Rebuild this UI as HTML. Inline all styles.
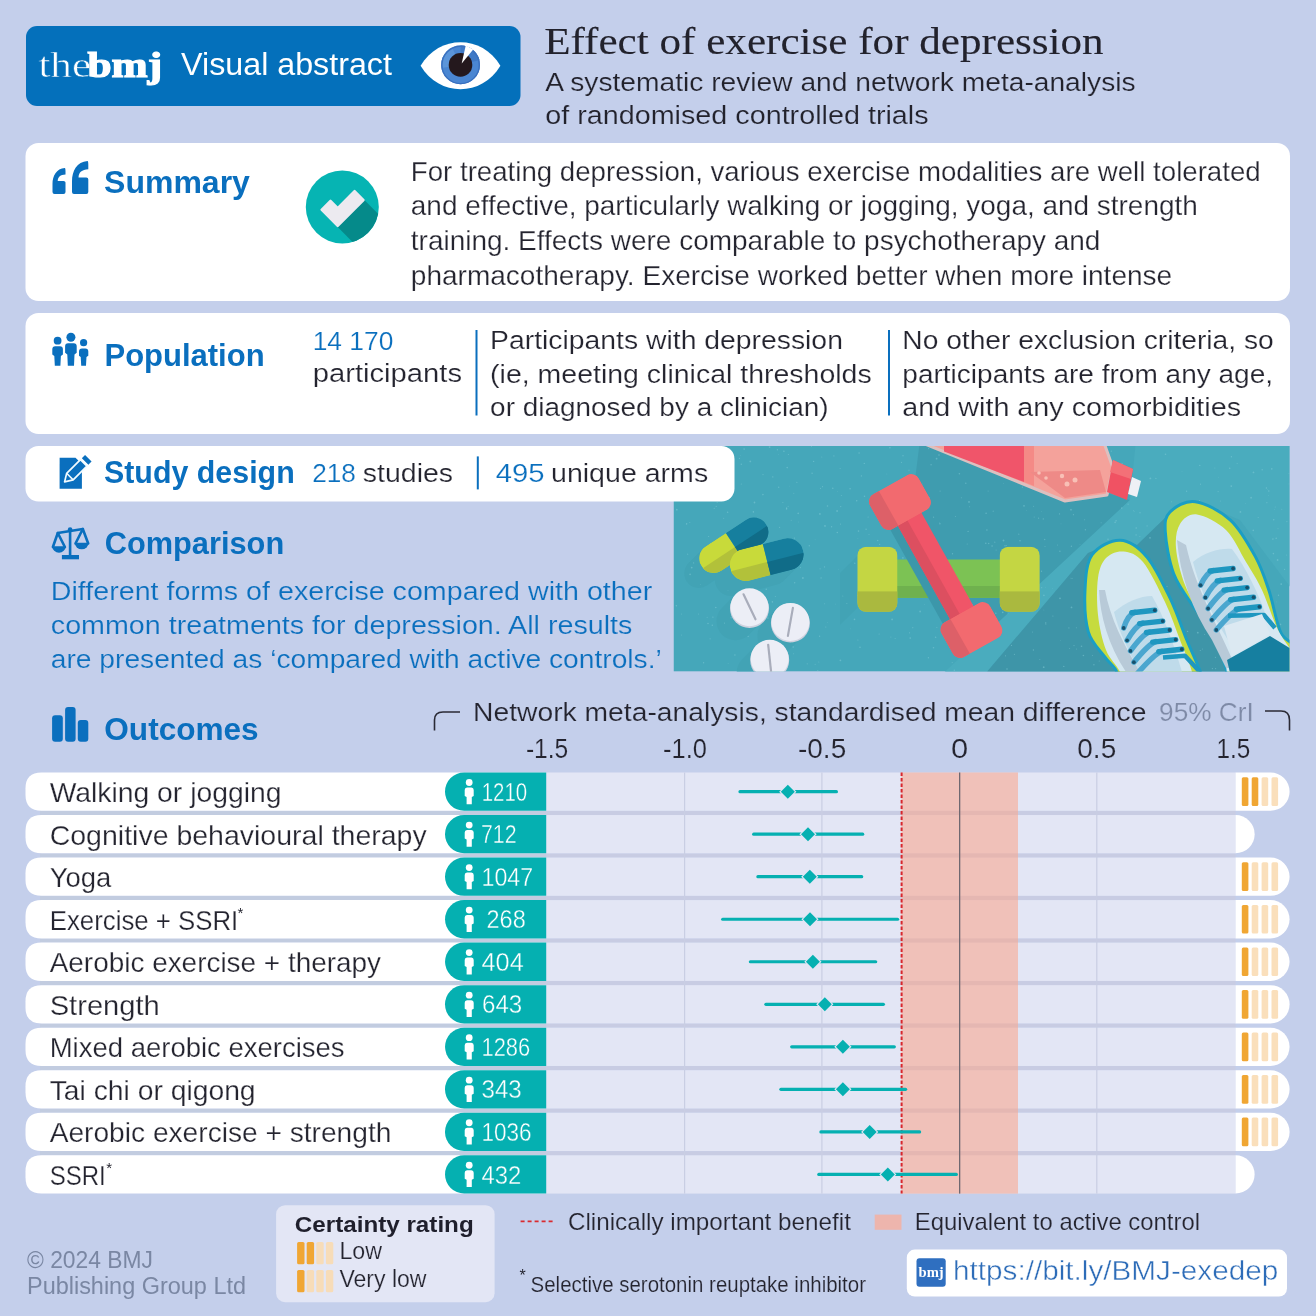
<!DOCTYPE html>
<html><head><meta charset="utf-8"><title>Effect of exercise for depression - Visual abstract</title>
<style>html,body{margin:0;padding:0;background:#c4cfeb;}svg{display:block;font-family:'Liberation Sans', sans-serif;}</style>
</head><body>
<svg width="1316" height="1316" viewBox="0 0 1316 1316">
<rect width="1316" height="1316" fill="#c4cfeb"/>
<rect x="26" y="26" width="494.5" height="80" rx="11" fill="#0470bb"/>
<text x="38.4" y="77.2" font-size="35" style="font-family:'Liberation Serif', serif" fill="#fff" textLength="52.7" lengthAdjust="spacingAndGlyphs" stroke="#0470bb" stroke-width="0.5">the</text>
<text x="87.4" y="77.2" font-size="35" font-weight="bold" style="font-family:'Liberation Serif', serif" fill="#fff" textLength="74.7" lengthAdjust="spacingAndGlyphs" stroke="#fff" stroke-width="1.2">bmj</text>
<text x="181.1" y="75.2" font-size="31" fill="#fff" textLength="210.8" lengthAdjust="spacingAndGlyphs">Visual abstract</text>
<path d="M420.6,65.7 C439,34.4 482,34.4 500.4,65.7 C482,97 439,97 420.6,65.7 Z" fill="#fff"/>
<circle cx="460.6" cy="64.9" r="19.4" fill="#4a86d2"/>
<path d="M460.6,64.9 L460.6,45.5 A19.4,19.4 0 0 1 479.5,60 Z" fill="#3f79c6"/>
<path d="M460.6,64.9 L441.5,68 A19.4,19.4 0 0 1 452,47.5 Z" fill="#5b95da"/>
<circle cx="460.6" cy="64.9" r="18.7" fill="none" stroke="#3a70bf" stroke-width="1.4"/>
<circle cx="460.5" cy="64.9" r="11.8" fill="#24181d"/>
<path d="M461.7,63.4 L465.8,45.3 L473.2,49.6 Z" fill="#fff"/>
<text x="544.2" y="53.7" font-size="38" style="font-family:'Liberation Serif', serif" fill="#22222c" textLength="559.5" lengthAdjust="spacingAndGlyphs" stroke="#22222c" stroke-width="0.12">Effect of exercise for depression</text>
<text x="545.2" y="90.7" font-size="26" fill="#22222c" textLength="590.4" lengthAdjust="spacingAndGlyphs" stroke="#c4cfeb" stroke-width="0.2">A systematic review and network meta-analysis</text>
<text x="545.2" y="124.4" font-size="26" fill="#22222c" textLength="383.4" lengthAdjust="spacingAndGlyphs" stroke="#c4cfeb" stroke-width="0.2">of randomised controlled trials</text>
<rect x="25.5" y="143" width="1264.5" height="158" rx="13" fill="#fff"/>
<path d="M64.85,168 C56.4,168.52 52.5,175.8 52.5,184.12 L52.5,192 Q52.5,194 54.5,194 L63.5,194 Q65.5,194 65.5,192 L65.5,182.56 Q65.5,181.0 63.5,181.0 L57.7,181.0 C57.96,176.58 60.3,175.02 65.5,174.5 Q65.5,173.2 65.5,171.12 Q65.5,168 64.85,168 Z" fill="#0a6fbe"/>
<path d="M87.485,161 C76.89,161.66 72,170.9 72,181.46 L72,192 Q72,194 74,194 L86.3,194 Q88.3,194 88.3,192 L88.3,179.48 Q88.3,177.5 86.3,177.5 L78.52,177.5 C78.846,171.89 81.78,169.91 88.3,169.25 Q88.3,167.6 88.3,164.96 Q88.3,161 87.485,161 Z" fill="#0a6fbe"/>
<text x="104.1" y="192.8" font-size="31" font-weight="bold" fill="#0a6fbe" textLength="145.8" lengthAdjust="spacingAndGlyphs">Summary</text>
<clipPath id="cc"><circle cx="342.3" cy="207" r="36.5"/></clipPath>
<circle cx="342.3" cy="207" r="36.5" fill="#06b4b3"/>
<path clip-path="url(#cc)" d="M337.7,226.9 L364.4,200.1 L414,250 L387,277 Z" fill="#058a8a"/>
<path d="M330.04,200.26 L337.7,207.9 L355.66,189.96 L365.14,199.44 L337.7,226.9 L320.56,209.74 Z" fill="#eceaf0" stroke="#eceaf0" stroke-width="2.6" stroke-linejoin="round" transform="translate(337.7,210) scale(0.94) translate(-337.7,-210)"/>
<text x="410.8" y="180.5" font-size="28" fill="#24242f" textLength="849.9" lengthAdjust="spacingAndGlyphs" stroke="#fff" stroke-width="0.25">For treating depression, various exercise modalities are well tolerated</text>
<text x="410.8" y="215.2" font-size="28" fill="#24242f" textLength="787.0" lengthAdjust="spacingAndGlyphs" stroke="#fff" stroke-width="0.25">and effective, particularly walking or jogging, yoga, and strength</text>
<text x="410.8" y="249.9" font-size="28" fill="#24242f" textLength="689.6" lengthAdjust="spacingAndGlyphs" stroke="#fff" stroke-width="0.25">training. Effects were comparable to psychotherapy and</text>
<text x="410.8" y="284.5" font-size="28" fill="#24242f" textLength="761.4" lengthAdjust="spacingAndGlyphs" stroke="#fff" stroke-width="0.25">pharmacotherapy. Exercise worked better when more intense</text>
<rect x="25.5" y="313" width="1264.5" height="121" rx="13" fill="#fff"/>
<circle cx="57.6" cy="340.7" r="3.9" fill="#0a6fbe"/>
<path d="M52.3,349.2 Q52.3,346.2 55.3,346.2 L59.9,346.2 Q62.9,346.2 62.9,349.2 L62.9,354.432 L60.886,356.0 L60.386,365.8 L54.814,365.8 L54.314,356.0 L52.3,354.432 Z" fill="#0a6fbe"/>
<circle cx="70.9" cy="337.2" r="4.5" fill="#0a6fbe"/>
<path d="M65.1,346.2 Q65.1,343.2 68.1,343.2 L73.7,343.2 Q76.7,343.2 76.7,346.2 L76.7,352.692 L74.49600000000001,354.5 L73.99600000000001,365.8 L67.804,365.8 L67.304,354.5 L65.1,352.692 Z" fill="#0a6fbe"/>
<circle cx="83.6" cy="342.7" r="3.6" fill="#0a6fbe"/>
<path d="M79.0,351.4 Q79.0,348.4 82.0,348.4 L85.3,348.4 Q88.3,348.4 88.3,351.4 L88.3,355.70799999999997 L86.48299999999999,357.1 L85.98299999999999,365.8 L81.217,365.8 L80.717,357.1 L79.0,355.70799999999997 Z" fill="#0a6fbe"/>
<text x="104.5" y="366.2" font-size="31" font-weight="bold" fill="#0a6fbe" textLength="160.1" lengthAdjust="spacingAndGlyphs">Population</text>
<text x="312.7" y="349.5" font-size="26" fill="#0a6fbe" textLength="80.6" lengthAdjust="spacingAndGlyphs" stroke="#fff" stroke-width="0.2">14 170</text>
<text x="312.7" y="382.1" font-size="26" fill="#24242f" textLength="149.4" lengthAdjust="spacingAndGlyphs" stroke="#fff" stroke-width="0.2">participants</text>
<rect x="475.5" y="330" width="2" height="85.5" fill="#0a6fbe"/>
<rect x="888" y="330" width="2" height="85.5" fill="#0a6fbe"/>
<text x="490.1" y="349.4" font-size="26" fill="#24242f" textLength="352.8" lengthAdjust="spacingAndGlyphs" stroke="#fff" stroke-width="0.2">Participants with depression</text>
<text x="490.1" y="382.9" font-size="26" fill="#24242f" textLength="381.6" lengthAdjust="spacingAndGlyphs" stroke="#fff" stroke-width="0.2">(ie, meeting clinical thresholds</text>
<text x="490.1" y="415.8" font-size="26" fill="#24242f" textLength="338.5" lengthAdjust="spacingAndGlyphs" stroke="#fff" stroke-width="0.2">or diagnosed by a clinician)</text>
<text x="902.3" y="349.4" font-size="26" fill="#24242f" textLength="371.4" lengthAdjust="spacingAndGlyphs" stroke="#fff" stroke-width="0.2">No other exclusion criteria, so</text>
<text x="902.3" y="382.9" font-size="26" fill="#24242f" textLength="370.8" lengthAdjust="spacingAndGlyphs" stroke="#fff" stroke-width="0.2">participants are from any age,</text>
<text x="902.3" y="415.8" font-size="26" fill="#24242f" textLength="338.8" lengthAdjust="spacingAndGlyphs" stroke="#fff" stroke-width="0.2">and with any comorbidities</text>
<clipPath id="ic"><rect x="673.5" y="446" width="616.0" height="225.60000000000002"/></clipPath>
<g clip-path="url(#ic)">
<rect x="673.5" y="446" width="616.0" height="225.60000000000002" fill="#45a7ba"/>
<path d="M935,440 L1130,500 L985,640 L965,645 L948,600 L910,520 L920,440 Z" fill="#3f9caf"/>
<path d="M1130,500 L1136,440 L1300,440 L1300,600 L1240,520 L1195,501 L1165,518 L1137,545 L1121,540 L1088,553 L980,680 L936,680 Z" fill="#4aacbe"/>
<path d="M1165,518 L1230,680 L980,680 L1088,553 L1121,540 L1137,545 Z" fill="#3e95a8"/>
<line x1="713.8" y1="558.4" x2="753.8" y2="532.0" stroke="#42a3b5" stroke-width="29" stroke-linecap="round"/>
<line x1="710.8" y1="561.4" x2="750.8" y2="535.0" stroke="#42a3b5" stroke-width="29" stroke-linecap="round"/>
<line x1="707.8" y1="564.4" x2="747.8" y2="538.0" stroke="#42a3b5" stroke-width="29" stroke-linecap="round"/>
<line x1="704.8" y1="567.4" x2="744.8" y2="541.0" stroke="#42a3b5" stroke-width="29" stroke-linecap="round"/>
<line x1="701.8" y1="570.4" x2="741.8" y2="544.0" stroke="#42a3b5" stroke-width="29" stroke-linecap="round"/>
<line x1="698.8" y1="573.4" x2="738.8" y2="547.0" stroke="#42a3b5" stroke-width="29" stroke-linecap="round"/>
<line x1="745.9" y1="564.9" x2="787.5" y2="554.3" stroke="#42a3b5" stroke-width="32" stroke-linecap="round"/>
<line x1="742.9" y1="567.9" x2="784.5" y2="557.3" stroke="#42a3b5" stroke-width="32" stroke-linecap="round"/>
<line x1="739.9" y1="570.9" x2="781.5" y2="560.3" stroke="#42a3b5" stroke-width="32" stroke-linecap="round"/>
<line x1="736.9" y1="573.9" x2="778.5" y2="563.3" stroke="#42a3b5" stroke-width="32" stroke-linecap="round"/>
<line x1="733.9" y1="576.9" x2="775.5" y2="566.3" stroke="#42a3b5" stroke-width="32" stroke-linecap="round"/>
<line x1="730.9" y1="579.9" x2="772.5" y2="569.3" stroke="#42a3b5" stroke-width="32" stroke-linecap="round"/>
<line x1="749.5" y1="607.3" x2="735.5" y2="621.3" stroke="#42a3b5" stroke-width="38" stroke-linecap="round"/>
<line x1="790.4" y1="621.9" x2="776.4" y2="635.9" stroke="#42a3b5" stroke-width="38" stroke-linecap="round"/>
<line x1="769.7" y1="658.8" x2="755.7" y2="672.8" stroke="#42a3b5" stroke-width="38" stroke-linecap="round"/>
<path d="M857.3,556 L857.3,608 L840,625 L840,573 Z" fill="#42a3b5"/>
<path d="M999.6,560 L1039.7,560 L1039.7,605 L1017,627 L977,627 Z" fill="#3995a9" fill-opacity="0"/>
<circle cx="820.1" cy="568.8" r="0.6" fill="#8ad0db" fill-opacity="0.45"/>
<circle cx="1045.5" cy="587.2" r="0.4" fill="#8ad0db" fill-opacity="0.45"/>
<circle cx="681.6" cy="634.9" r="0.5" fill="#8ad0db" fill-opacity="0.45"/>
<circle cx="817.8" cy="670.6" r="0.6" fill="#8ad0db" fill-opacity="0.45"/>
<circle cx="1188.8" cy="553.5" r="0.7" fill="#8ad0db" fill-opacity="0.45"/>
<circle cx="766.3" cy="589.2" r="0.8" fill="#8ad0db" fill-opacity="0.45"/>
<circle cx="995.8" cy="613.2" r="0.7" fill="#8ad0db" fill-opacity="0.45"/>
<circle cx="712.9" cy="617.1" r="0.7" fill="#8ad0db" fill-opacity="0.45"/>
<circle cx="859.1" cy="453.0" r="0.8" fill="#8ad0db" fill-opacity="0.45"/>
<circle cx="964.7" cy="608.2" r="0.8" fill="#8ad0db" fill-opacity="0.45"/>
<circle cx="1113.4" cy="653.8" r="0.6" fill="#8ad0db" fill-opacity="0.45"/>
<circle cx="1166.9" cy="546.3" r="0.9" fill="#8ad0db" fill-opacity="0.45"/>
<circle cx="1214.9" cy="468.0" r="0.5" fill="#8ad0db" fill-opacity="0.45"/>
<circle cx="807.2" cy="663.8" r="0.6" fill="#8ad0db" fill-opacity="0.45"/>
<circle cx="1059.5" cy="513.9" r="0.7" fill="#8ad0db" fill-opacity="0.45"/>
<circle cx="911.2" cy="525.2" r="0.7" fill="#8ad0db" fill-opacity="0.45"/>
<circle cx="1033.4" cy="650.0" r="0.7" fill="#8ad0db" fill-opacity="0.45"/>
<circle cx="1245.7" cy="639.2" r="0.9" fill="#8ad0db" fill-opacity="0.45"/>
<circle cx="1087.0" cy="482.8" r="0.8" fill="#8ad0db" fill-opacity="0.45"/>
<circle cx="1267.7" cy="650.1" r="0.7" fill="#8ad0db" fill-opacity="0.45"/>
<circle cx="1113.2" cy="493.6" r="0.8" fill="#8ad0db" fill-opacity="0.45"/>
<circle cx="1026.8" cy="510.3" r="0.4" fill="#8ad0db" fill-opacity="0.45"/>
<circle cx="1199.5" cy="669.3" r="0.4" fill="#8ad0db" fill-opacity="0.45"/>
<circle cx="1166.7" cy="538.6" r="0.5" fill="#8ad0db" fill-opacity="0.45"/>
<circle cx="854.5" cy="619.4" r="0.8" fill="#8ad0db" fill-opacity="0.45"/>
<circle cx="700.7" cy="584.6" r="0.4" fill="#8ad0db" fill-opacity="0.45"/>
<circle cx="1116.1" cy="520.7" r="0.8" fill="#8ad0db" fill-opacity="0.45"/>
<circle cx="1277.6" cy="560.0" r="0.9" fill="#8ad0db" fill-opacity="0.45"/>
<circle cx="864.3" cy="463.4" r="0.7" fill="#8ad0db" fill-opacity="0.45"/>
<circle cx="692.8" cy="490.5" r="0.6" fill="#8ad0db" fill-opacity="0.45"/>
<circle cx="1049.5" cy="481.2" r="0.4" fill="#8ad0db" fill-opacity="0.45"/>
<circle cx="1208.1" cy="516.8" r="0.9" fill="#8ad0db" fill-opacity="0.45"/>
<circle cx="1225.8" cy="531.2" r="0.6" fill="#8ad0db" fill-opacity="0.45"/>
<circle cx="993.9" cy="591.3" r="0.7" fill="#8ad0db" fill-opacity="0.45"/>
<circle cx="1018.0" cy="585.9" r="0.9" fill="#8ad0db" fill-opacity="0.45"/>
<circle cx="985.8" cy="543.3" r="0.8" fill="#8ad0db" fill-opacity="0.45"/>
<circle cx="819.9" cy="513.9" r="0.9" fill="#8ad0db" fill-opacity="0.45"/>
<circle cx="994.5" cy="569.7" r="0.4" fill="#8ad0db" fill-opacity="0.45"/>
<circle cx="929.3" cy="576.8" r="0.4" fill="#8ad0db" fill-opacity="0.45"/>
<circle cx="1052.8" cy="588.6" r="0.4" fill="#8ad0db" fill-opacity="0.45"/>
<circle cx="1059.9" cy="551.2" r="0.7" fill="#8ad0db" fill-opacity="0.45"/>
<circle cx="890.7" cy="605.5" r="0.8" fill="#8ad0db" fill-opacity="0.45"/>
<circle cx="687.2" cy="459.7" r="0.7" fill="#8ad0db" fill-opacity="0.45"/>
<circle cx="1266.9" cy="502.7" r="0.6" fill="#8ad0db" fill-opacity="0.45"/>
<circle cx="1038.6" cy="518.2" r="0.6" fill="#8ad0db" fill-opacity="0.45"/>
<circle cx="866.1" cy="529.3" r="0.7" fill="#8ad0db" fill-opacity="0.45"/>
<circle cx="858.5" cy="531.1" r="0.8" fill="#8ad0db" fill-opacity="0.45"/>
<circle cx="690.1" cy="574.4" r="0.8" fill="#8ad0db" fill-opacity="0.45"/>
<circle cx="864.5" cy="496.2" r="0.8" fill="#8ad0db" fill-opacity="0.45"/>
<circle cx="820.5" cy="488.3" r="0.6" fill="#8ad0db" fill-opacity="0.45"/>
<circle cx="1103.5" cy="469.0" r="0.6" fill="#8ad0db" fill-opacity="0.45"/>
<circle cx="879.1" cy="634.0" r="0.6" fill="#8ad0db" fill-opacity="0.45"/>
<circle cx="1200.5" cy="484.2" r="0.6" fill="#8ad0db" fill-opacity="0.45"/>
<circle cx="1074.0" cy="645.6" r="0.6" fill="#8ad0db" fill-opacity="0.45"/>
<circle cx="812.1" cy="473.3" r="0.7" fill="#8ad0db" fill-opacity="0.45"/>
<circle cx="791.0" cy="628.0" r="0.8" fill="#8ad0db" fill-opacity="0.45"/>
<circle cx="786.6" cy="508.9" r="0.8" fill="#8ad0db" fill-opacity="0.45"/>
<circle cx="1068.9" cy="627.9" r="0.6" fill="#8ad0db" fill-opacity="0.45"/>
<circle cx="753.4" cy="511.9" r="0.8" fill="#8ad0db" fill-opacity="0.45"/>
<circle cx="840.5" cy="524.1" r="0.6" fill="#8ad0db" fill-opacity="0.45"/>
<circle cx="932.1" cy="538.4" r="0.9" fill="#8ad0db" fill-opacity="0.45"/>
<circle cx="769.6" cy="447.1" r="0.9" fill="#8ad0db" fill-opacity="0.45"/>
<circle cx="1215.6" cy="668.6" r="0.6" fill="#8ad0db" fill-opacity="0.45"/>
<circle cx="1258.8" cy="655.2" r="0.5" fill="#8ad0db" fill-opacity="0.45"/>
<circle cx="1132.7" cy="634.8" r="0.7" fill="#8ad0db" fill-opacity="0.45"/>
<circle cx="993.2" cy="511.2" r="0.6" fill="#8ad0db" fill-opacity="0.45"/>
<circle cx="813.6" cy="461.4" r="0.7" fill="#8ad0db" fill-opacity="0.45"/>
<circle cx="850.3" cy="628.8" r="0.4" fill="#8ad0db" fill-opacity="0.45"/>
<circle cx="1230.1" cy="602.5" r="0.9" fill="#8ad0db" fill-opacity="0.45"/>
<circle cx="1225.8" cy="649.0" r="0.7" fill="#8ad0db" fill-opacity="0.45"/>
<circle cx="681.6" cy="614.1" r="0.5" fill="#8ad0db" fill-opacity="0.45"/>
<circle cx="858.2" cy="595.5" r="0.7" fill="#8ad0db" fill-opacity="0.45"/>
<circle cx="928.4" cy="657.8" r="0.7" fill="#8ad0db" fill-opacity="0.45"/>
<circle cx="883.8" cy="503.0" r="0.8" fill="#8ad0db" fill-opacity="0.45"/>
<circle cx="967.5" cy="622.5" r="0.6" fill="#8ad0db" fill-opacity="0.45"/>
<circle cx="795.1" cy="566.6" r="0.8" fill="#8ad0db" fill-opacity="0.45"/>
<circle cx="779.0" cy="624.6" r="0.9" fill="#8ad0db" fill-opacity="0.45"/>
<circle cx="1170.0" cy="631.8" r="0.4" fill="#8ad0db" fill-opacity="0.45"/>
<circle cx="1060.7" cy="640.6" r="0.4" fill="#8ad0db" fill-opacity="0.45"/>
<circle cx="840.7" cy="506.6" r="0.7" fill="#8ad0db" fill-opacity="0.45"/>
<circle cx="934.1" cy="552.7" r="0.8" fill="#8ad0db" fill-opacity="0.45"/>
<circle cx="674.6" cy="458.4" r="0.5" fill="#8ad0db" fill-opacity="0.45"/>
<circle cx="750.3" cy="461.4" r="0.9" fill="#8ad0db" fill-opacity="0.45"/>
<circle cx="1199.8" cy="465.4" r="0.7" fill="#8ad0db" fill-opacity="0.45"/>
<circle cx="868.1" cy="517.0" r="0.6" fill="#8ad0db" fill-opacity="0.45"/>
<circle cx="1072.0" cy="578.3" r="0.6" fill="#8ad0db" fill-opacity="0.45"/>
<circle cx="791.2" cy="520.2" r="0.5" fill="#8ad0db" fill-opacity="0.45"/>
<circle cx="1015.7" cy="607.5" r="0.6" fill="#8ad0db" fill-opacity="0.45"/>
<circle cx="722.7" cy="486.3" r="0.6" fill="#8ad0db" fill-opacity="0.45"/>
<circle cx="1045.8" cy="622.6" r="0.6" fill="#8ad0db" fill-opacity="0.45"/>
<circle cx="1167.0" cy="586.5" r="0.6" fill="#8ad0db" fill-opacity="0.45"/>
<circle cx="902.9" cy="557.9" r="0.8" fill="#8ad0db" fill-opacity="0.45"/>
<circle cx="932.5" cy="602.6" r="0.6" fill="#8ad0db" fill-opacity="0.45"/>
<circle cx="824.5" cy="566.9" r="0.7" fill="#8ad0db" fill-opacity="0.45"/>
<circle cx="717.6" cy="541.9" r="0.6" fill="#8ad0db" fill-opacity="0.45"/>
<circle cx="1215.4" cy="657.3" r="0.6" fill="#8ad0db" fill-opacity="0.45"/>
<circle cx="1226.6" cy="624.4" r="0.5" fill="#8ad0db" fill-opacity="0.45"/>
<circle cx="959.4" cy="473.8" r="0.8" fill="#8ad0db" fill-opacity="0.45"/>
<circle cx="1081.5" cy="646.2" r="0.8" fill="#8ad0db" fill-opacity="0.45"/>
<circle cx="1084.7" cy="611.5" r="0.7" fill="#8ad0db" fill-opacity="0.45"/>
<circle cx="737.0" cy="578.6" r="0.4" fill="#8ad0db" fill-opacity="0.45"/>
<circle cx="761.9" cy="620.7" r="0.4" fill="#8ad0db" fill-opacity="0.45"/>
<circle cx="730.0" cy="468.4" r="0.8" fill="#8ad0db" fill-opacity="0.45"/>
<circle cx="783.9" cy="451.3" r="0.8" fill="#8ad0db" fill-opacity="0.45"/>
<circle cx="748.2" cy="636.4" r="0.7" fill="#8ad0db" fill-opacity="0.45"/>
<circle cx="1188.6" cy="660.9" r="0.7" fill="#8ad0db" fill-opacity="0.45"/>
<circle cx="1165.5" cy="454.2" r="0.8" fill="#8ad0db" fill-opacity="0.45"/>
<circle cx="988.5" cy="607.3" r="0.5" fill="#8ad0db" fill-opacity="0.45"/>
<circle cx="1134.9" cy="656.8" r="0.4" fill="#8ad0db" fill-opacity="0.45"/>
<circle cx="873.2" cy="573.2" r="0.8" fill="#8ad0db" fill-opacity="0.45"/>
<circle cx="822.6" cy="486.6" r="0.5" fill="#8ad0db" fill-opacity="0.45"/>
<circle cx="1052.9" cy="616.0" r="0.6" fill="#8ad0db" fill-opacity="0.45"/>
<circle cx="899.9" cy="535.5" r="0.6" fill="#8ad0db" fill-opacity="0.45"/>
<circle cx="931.1" cy="464.8" r="0.7" fill="#8ad0db" fill-opacity="0.45"/>
<circle cx="1272.9" cy="539.1" r="0.8" fill="#8ad0db" fill-opacity="0.45"/>
<circle cx="772.4" cy="601.9" r="0.8" fill="#8ad0db" fill-opacity="0.45"/>
<circle cx="1088.6" cy="562.7" r="0.6" fill="#8ad0db" fill-opacity="0.45"/>
<circle cx="1069.6" cy="648.5" r="0.5" fill="#8ad0db" fill-opacity="0.45"/>
<circle cx="732.6" cy="614.8" r="0.9" fill="#8ad0db" fill-opacity="0.45"/>
<circle cx="992.1" cy="546.0" r="0.8" fill="#8ad0db" fill-opacity="0.45"/>
<circle cx="788.1" cy="506.3" r="0.5" fill="#8ad0db" fill-opacity="0.45"/>
<circle cx="1034.2" cy="517.0" r="0.5" fill="#8ad0db" fill-opacity="0.45"/>
<circle cx="1099.2" cy="661.1" r="0.5" fill="#8ad0db" fill-opacity="0.45"/>
<circle cx="1108.0" cy="539.2" r="0.8" fill="#8ad0db" fill-opacity="0.45"/>
<circle cx="1033.6" cy="506.3" r="0.5" fill="#8ad0db" fill-opacity="0.45"/>
<circle cx="687.7" cy="554.2" r="0.6" fill="#8ad0db" fill-opacity="0.45"/>
<circle cx="779.6" cy="527.3" r="0.6" fill="#8ad0db" fill-opacity="0.45"/>
<circle cx="1150.4" cy="478.4" r="0.9" fill="#8ad0db" fill-opacity="0.45"/>
<circle cx="968.9" cy="581.1" r="0.6" fill="#8ad0db" fill-opacity="0.45"/>
<circle cx="1187.6" cy="631.4" r="0.7" fill="#8ad0db" fill-opacity="0.45"/>
<circle cx="970.0" cy="608.6" r="0.8" fill="#8ad0db" fill-opacity="0.45"/>
<circle cx="920.1" cy="611.5" r="0.9" fill="#8ad0db" fill-opacity="0.45"/>
<circle cx="961.4" cy="497.8" r="0.5" fill="#8ad0db" fill-opacity="0.45"/>
<circle cx="1115.6" cy="598.4" r="0.9" fill="#8ad0db" fill-opacity="0.45"/>
<circle cx="1199.5" cy="500.6" r="0.5" fill="#8ad0db" fill-opacity="0.45"/>
<circle cx="832.8" cy="488.2" r="0.8" fill="#8ad0db" fill-opacity="0.45"/>
<circle cx="1202.4" cy="649.0" r="0.5" fill="#8ad0db" fill-opacity="0.45"/>
<circle cx="1206.4" cy="516.7" r="0.6" fill="#8ad0db" fill-opacity="0.45"/>
<circle cx="1122.5" cy="465.4" r="0.4" fill="#8ad0db" fill-opacity="0.45"/>
<circle cx="1187.2" cy="511.8" r="0.6" fill="#8ad0db" fill-opacity="0.45"/>
<circle cx="1031.0" cy="598.4" r="0.4" fill="#8ad0db" fill-opacity="0.45"/>
<circle cx="879.7" cy="544.4" r="0.6" fill="#8ad0db" fill-opacity="0.45"/>
<circle cx="802.9" cy="578.0" r="0.9" fill="#8ad0db" fill-opacity="0.45"/>
<circle cx="914.3" cy="568.8" r="0.5" fill="#8ad0db" fill-opacity="0.45"/>
<circle cx="842.8" cy="596.1" r="0.5" fill="#8ad0db" fill-opacity="0.45"/>
<circle cx="1220.0" cy="651.0" r="0.4" fill="#8ad0db" fill-opacity="0.45"/>
<circle cx="1253.3" cy="530.4" r="0.8" fill="#8ad0db" fill-opacity="0.45"/>
<circle cx="1140.0" cy="512.7" r="0.7" fill="#8ad0db" fill-opacity="0.45"/>
<circle cx="1076.4" cy="627.8" r="0.5" fill="#8ad0db" fill-opacity="0.45"/>
<circle cx="1138.1" cy="662.9" r="0.7" fill="#8ad0db" fill-opacity="0.45"/>
<circle cx="1003.8" cy="471.6" r="0.6" fill="#8ad0db" fill-opacity="0.45"/>
<circle cx="890.4" cy="608.0" r="0.7" fill="#8ad0db" fill-opacity="0.45"/>
<circle cx="1022.4" cy="487.1" r="0.7" fill="#8ad0db" fill-opacity="0.45"/>
<circle cx="1062.1" cy="486.4" r="0.8" fill="#8ad0db" fill-opacity="0.45"/>
<circle cx="1077.2" cy="473.8" r="0.9" fill="#8ad0db" fill-opacity="0.45"/>
<circle cx="760.6" cy="520.8" r="0.8" fill="#8ad0db" fill-opacity="0.45"/>
<circle cx="1041.5" cy="571.2" r="0.7" fill="#8ad0db" fill-opacity="0.45"/>
<circle cx="955.4" cy="516.5" r="0.5" fill="#8ad0db" fill-opacity="0.45"/>
<circle cx="715.8" cy="607.5" r="0.8" fill="#8ad0db" fill-opacity="0.45"/>
<circle cx="1008.1" cy="612.9" r="0.6" fill="#8ad0db" fill-opacity="0.45"/>
<circle cx="837.3" cy="532.5" r="0.8" fill="#8ad0db" fill-opacity="0.45"/>
<circle cx="699.4" cy="559.9" r="0.5" fill="#8ad0db" fill-opacity="0.45"/>
<circle cx="1147.1" cy="525.9" r="0.6" fill="#8ad0db" fill-opacity="0.45"/>
<circle cx="922.0" cy="568.2" r="0.8" fill="#8ad0db" fill-opacity="0.45"/>
<circle cx="890.9" cy="637.1" r="0.5" fill="#8ad0db" fill-opacity="0.45"/>
<circle cx="840.1" cy="468.5" r="0.5" fill="#8ad0db" fill-opacity="0.45"/>
<circle cx="1153.4" cy="610.1" r="0.5" fill="#8ad0db" fill-opacity="0.45"/>
<circle cx="790.0" cy="540.0" r="0.8" fill="#8ad0db" fill-opacity="0.45"/>
<circle cx="1176.0" cy="614.9" r="0.7" fill="#8ad0db" fill-opacity="0.45"/>
<circle cx="763.7" cy="535.9" r="0.5" fill="#8ad0db" fill-opacity="0.45"/>
<circle cx="998.5" cy="574.2" r="0.5" fill="#8ad0db" fill-opacity="0.45"/>
<circle cx="827.6" cy="622.3" r="0.4" fill="#8ad0db" fill-opacity="0.45"/>
<circle cx="1168.2" cy="647.1" r="0.9" fill="#8ad0db" fill-opacity="0.45"/>
<circle cx="909.5" cy="570.7" r="0.7" fill="#8ad0db" fill-opacity="0.45"/>
<circle cx="1063.8" cy="666.4" r="0.7" fill="#8ad0db" fill-opacity="0.45"/>
<circle cx="857.9" cy="640.0" r="0.6" fill="#8ad0db" fill-opacity="0.45"/>
<circle cx="1043.9" cy="610.0" r="0.4" fill="#8ad0db" fill-opacity="0.45"/>
<circle cx="1148.1" cy="595.3" r="0.6" fill="#8ad0db" fill-opacity="0.45"/>
<circle cx="996.1" cy="549.9" r="0.5" fill="#8ad0db" fill-opacity="0.45"/>
<circle cx="999.7" cy="454.4" r="0.7" fill="#8ad0db" fill-opacity="0.45"/>
<circle cx="1071.4" cy="546.2" r="0.7" fill="#8ad0db" fill-opacity="0.45"/>
<circle cx="1264.3" cy="647.2" r="0.5" fill="#8ad0db" fill-opacity="0.45"/>
<circle cx="1161.6" cy="586.6" r="0.4" fill="#8ad0db" fill-opacity="0.45"/>
<circle cx="895.2" cy="498.7" r="0.4" fill="#8ad0db" fill-opacity="0.45"/>
<circle cx="1005.5" cy="655.8" r="0.6" fill="#8ad0db" fill-opacity="0.45"/>
<circle cx="1209.7" cy="602.7" r="0.5" fill="#8ad0db" fill-opacity="0.45"/>
<circle cx="1202.2" cy="581.6" r="0.9" fill="#8ad0db" fill-opacity="0.45"/>
<circle cx="1114.5" cy="612.9" r="0.6" fill="#8ad0db" fill-opacity="0.45"/>
<circle cx="1170.4" cy="656.2" r="0.8" fill="#8ad0db" fill-opacity="0.45"/>
<circle cx="942.7" cy="616.7" r="0.6" fill="#8ad0db" fill-opacity="0.45"/>
<circle cx="740.7" cy="455.6" r="0.4" fill="#8ad0db" fill-opacity="0.45"/>
<circle cx="796.9" cy="482.3" r="0.6" fill="#8ad0db" fill-opacity="0.45"/>
<circle cx="1104.3" cy="567.2" r="0.6" fill="#8ad0db" fill-opacity="0.45"/>
<circle cx="1073.4" cy="514.7" r="0.6" fill="#8ad0db" fill-opacity="0.45"/>
<circle cx="1139.9" cy="536.6" r="0.5" fill="#8ad0db" fill-opacity="0.45"/>
<circle cx="1227.5" cy="608.4" r="0.6" fill="#8ad0db" fill-opacity="0.45"/>
<circle cx="902.0" cy="565.4" r="0.7" fill="#8ad0db" fill-opacity="0.45"/>
<circle cx="811.4" cy="446.6" r="0.5" fill="#8ad0db" fill-opacity="0.45"/>
<circle cx="1155.9" cy="478.4" r="0.6" fill="#8ad0db" fill-opacity="0.45"/>
<circle cx="793.8" cy="493.2" r="0.5" fill="#8ad0db" fill-opacity="0.45"/>
<circle cx="922.2" cy="484.0" r="0.4" fill="#8ad0db" fill-opacity="0.45"/>
<circle cx="741.3" cy="484.0" r="0.6" fill="#8ad0db" fill-opacity="0.45"/>
<circle cx="710.3" cy="451.1" r="0.6" fill="#8ad0db" fill-opacity="0.45"/>
<circle cx="924.7" cy="604.7" r="0.4" fill="#8ad0db" fill-opacity="0.45"/>
<circle cx="921.9" cy="535.5" r="0.4" fill="#8ad0db" fill-opacity="0.45"/>
<circle cx="1268.3" cy="495.4" r="0.4" fill="#8ad0db" fill-opacity="0.45"/>
<circle cx="965.8" cy="483.2" r="0.7" fill="#8ad0db" fill-opacity="0.45"/>
<circle cx="886.9" cy="474.0" r="0.4" fill="#8ad0db" fill-opacity="0.45"/>
<circle cx="1121.7" cy="508.1" r="0.8" fill="#8ad0db" fill-opacity="0.45"/>
<circle cx="960.2" cy="656.5" r="0.6" fill="#8ad0db" fill-opacity="0.45"/>
<circle cx="827.5" cy="506.0" r="0.8" fill="#8ad0db" fill-opacity="0.45"/>
<circle cx="1061.0" cy="523.8" r="0.4" fill="#8ad0db" fill-opacity="0.45"/>
<circle cx="1093.9" cy="664.7" r="0.7" fill="#8ad0db" fill-opacity="0.45"/>
<circle cx="675.8" cy="452.8" r="0.4" fill="#8ad0db" fill-opacity="0.45"/>
<circle cx="778.4" cy="454.3" r="0.4" fill="#8ad0db" fill-opacity="0.45"/>
<circle cx="1076.6" cy="649.1" r="0.5" fill="#8ad0db" fill-opacity="0.45"/>
<circle cx="1273.4" cy="553.6" r="0.8" fill="#8ad0db" fill-opacity="0.45"/>
<circle cx="1238.6" cy="658.1" r="0.4" fill="#8ad0db" fill-opacity="0.45"/>
<circle cx="861.2" cy="582.9" r="0.9" fill="#8ad0db" fill-opacity="0.45"/>
<circle cx="727.6" cy="512.2" r="0.8" fill="#8ad0db" fill-opacity="0.45"/>
<circle cx="744.1" cy="534.0" r="0.6" fill="#8ad0db" fill-opacity="0.45"/>
<circle cx="1092.4" cy="655.5" r="0.5" fill="#8ad0db" fill-opacity="0.45"/>
<circle cx="1129.2" cy="611.6" r="0.8" fill="#8ad0db" fill-opacity="0.45"/>
<circle cx="1014.4" cy="654.3" r="0.6" fill="#8ad0db" fill-opacity="0.45"/>
<circle cx="929.0" cy="497.8" r="0.8" fill="#8ad0db" fill-opacity="0.45"/>
<circle cx="969.6" cy="506.8" r="0.5" fill="#8ad0db" fill-opacity="0.45"/>
<circle cx="1117.4" cy="582.6" r="0.8" fill="#8ad0db" fill-opacity="0.45"/>
<circle cx="911.8" cy="555.9" r="0.5" fill="#8ad0db" fill-opacity="0.45"/>
<circle cx="1111.3" cy="451.2" r="0.6" fill="#8ad0db" fill-opacity="0.45"/>
<circle cx="1140.7" cy="598.8" r="0.4" fill="#8ad0db" fill-opacity="0.45"/>
<circle cx="819.6" cy="636.3" r="0.7" fill="#8ad0db" fill-opacity="0.45"/>
<circle cx="1214.7" cy="642.8" r="0.6" fill="#8ad0db" fill-opacity="0.45"/>
<circle cx="1226.0" cy="611.3" r="0.6" fill="#8ad0db" fill-opacity="0.45"/>
<circle cx="901.5" cy="462.3" r="0.6" fill="#8ad0db" fill-opacity="0.45"/>
<circle cx="1262.2" cy="469.7" r="0.7" fill="#8ad0db" fill-opacity="0.45"/>
<circle cx="741.3" cy="464.2" r="0.7" fill="#8ad0db" fill-opacity="0.45"/>
<circle cx="821.8" cy="457.0" r="0.5" fill="#8ad0db" fill-opacity="0.45"/>
<circle cx="1070.5" cy="578.1" r="0.4" fill="#8ad0db" fill-opacity="0.45"/>
<circle cx="815.1" cy="664.2" r="0.5" fill="#8ad0db" fill-opacity="0.45"/>
<circle cx="1020.0" cy="540.7" r="0.8" fill="#8ad0db" fill-opacity="0.45"/>
<circle cx="1045.8" cy="623.9" r="0.7" fill="#8ad0db" fill-opacity="0.45"/>
<circle cx="789.4" cy="486.1" r="0.4" fill="#8ad0db" fill-opacity="0.45"/>
<circle cx="1182.0" cy="471.4" r="0.4" fill="#8ad0db" fill-opacity="0.45"/>
<circle cx="1268.8" cy="491.0" r="0.8" fill="#8ad0db" fill-opacity="0.45"/>
<circle cx="726.3" cy="551.0" r="0.5" fill="#8ad0db" fill-opacity="0.45"/>
<circle cx="1184.5" cy="584.8" r="0.7" fill="#8ad0db" fill-opacity="0.45"/>
<circle cx="1142.5" cy="642.7" r="0.6" fill="#8ad0db" fill-opacity="0.45"/>
<circle cx="1045.0" cy="546.5" r="0.5" fill="#8ad0db" fill-opacity="0.45"/>
<circle cx="1188.1" cy="580.1" r="0.8" fill="#8ad0db" fill-opacity="0.45"/>
<circle cx="800.4" cy="567.6" r="0.6" fill="#8ad0db" fill-opacity="0.45"/>
<circle cx="1122.0" cy="463.4" r="0.6" fill="#8ad0db" fill-opacity="0.45"/>
<circle cx="972.0" cy="462.1" r="0.7" fill="#8ad0db" fill-opacity="0.45"/>
<circle cx="1126.5" cy="541.4" r="0.7" fill="#8ad0db" fill-opacity="0.45"/>
<circle cx="1046.7" cy="494.3" r="0.6" fill="#8ad0db" fill-opacity="0.45"/>
<circle cx="1286.9" cy="521.6" r="0.6" fill="#8ad0db" fill-opacity="0.45"/>
<circle cx="725.4" cy="495.2" r="0.5" fill="#8ad0db" fill-opacity="0.45"/>
<circle cx="1247.0" cy="609.9" r="0.8" fill="#8ad0db" fill-opacity="0.45"/>
<circle cx="1281.2" cy="584.1" r="0.9" fill="#8ad0db" fill-opacity="0.45"/>
<circle cx="1003.5" cy="540.5" r="0.9" fill="#8ad0db" fill-opacity="0.45"/>
<circle cx="1229.8" cy="660.2" r="0.6" fill="#8ad0db" fill-opacity="0.45"/>
<circle cx="1150.0" cy="537.8" r="0.9" fill="#8ad0db" fill-opacity="0.45"/>
<circle cx="1240.4" cy="511.9" r="0.9" fill="#8ad0db" fill-opacity="0.45"/>
<circle cx="787.2" cy="467.6" r="0.8" fill="#8ad0db" fill-opacity="0.45"/>
<circle cx="854.8" cy="563.2" r="0.7" fill="#8ad0db" fill-opacity="0.45"/>
<circle cx="698.5" cy="614.1" r="0.5" fill="#8ad0db" fill-opacity="0.45"/>
<circle cx="939.9" cy="523.8" r="0.8" fill="#8ad0db" fill-opacity="0.45"/>
<circle cx="1133.5" cy="510.8" r="0.5" fill="#8ad0db" fill-opacity="0.45"/>
<circle cx="857.9" cy="538.7" r="0.4" fill="#8ad0db" fill-opacity="0.45"/>
<circle cx="767.9" cy="618.1" r="0.8" fill="#8ad0db" fill-opacity="0.45"/>
<circle cx="1275.0" cy="667.0" r="0.8" fill="#8ad0db" fill-opacity="0.45"/>
<circle cx="903.0" cy="482.4" r="0.6" fill="#8ad0db" fill-opacity="0.45"/>
<circle cx="958.8" cy="564.7" r="0.7" fill="#8ad0db" fill-opacity="0.45"/>
<circle cx="895.1" cy="638.4" r="0.5" fill="#8ad0db" fill-opacity="0.45"/>
<circle cx="958.8" cy="646.1" r="0.8" fill="#8ad0db" fill-opacity="0.45"/>
<circle cx="856.7" cy="500.7" r="0.8" fill="#8ad0db" fill-opacity="0.45"/>
<circle cx="679.7" cy="475.7" r="0.7" fill="#8ad0db" fill-opacity="0.45"/>
<circle cx="1003.6" cy="483.4" r="0.4" fill="#8ad0db" fill-opacity="0.45"/>
<circle cx="799.1" cy="619.7" r="0.6" fill="#8ad0db" fill-opacity="0.45"/>
<circle cx="1276.7" cy="623.2" r="0.9" fill="#8ad0db" fill-opacity="0.45"/>
<circle cx="695.1" cy="487.7" r="0.4" fill="#8ad0db" fill-opacity="0.45"/>
<circle cx="939.8" cy="522.3" r="0.4" fill="#8ad0db" fill-opacity="0.45"/>
<circle cx="1009.8" cy="467.2" r="0.6" fill="#8ad0db" fill-opacity="0.45"/>
<circle cx="825.8" cy="627.0" r="0.6" fill="#8ad0db" fill-opacity="0.45"/>
<circle cx="833.9" cy="455.9" r="0.6" fill="#8ad0db" fill-opacity="0.45"/>
<circle cx="1060.0" cy="598.3" r="0.9" fill="#8ad0db" fill-opacity="0.45"/>
<circle cx="1171.6" cy="501.8" r="0.5" fill="#8ad0db" fill-opacity="0.45"/>
<circle cx="1140.6" cy="624.1" r="0.7" fill="#8ad0db" fill-opacity="0.45"/>
<circle cx="1185.4" cy="570.5" r="0.5" fill="#8ad0db" fill-opacity="0.45"/>
<circle cx="777.4" cy="449.8" r="0.7" fill="#8ad0db" fill-opacity="0.45"/>
<circle cx="1226.0" cy="650.4" r="0.6" fill="#8ad0db" fill-opacity="0.45"/>
<circle cx="1083.4" cy="655.5" r="0.8" fill="#8ad0db" fill-opacity="0.45"/>
<circle cx="1044.7" cy="539.5" r="0.7" fill="#8ad0db" fill-opacity="0.45"/>
<circle cx="778.7" cy="487.3" r="0.7" fill="#8ad0db" fill-opacity="0.45"/>
<circle cx="1284.6" cy="569.4" r="0.6" fill="#8ad0db" fill-opacity="0.45"/>
<circle cx="890.3" cy="548.6" r="0.8" fill="#8ad0db" fill-opacity="0.45"/>
<circle cx="952.2" cy="662.4" r="0.5" fill="#8ad0db" fill-opacity="0.45"/>
<circle cx="867.5" cy="563.8" r="0.6" fill="#8ad0db" fill-opacity="0.45"/>
<circle cx="1197.8" cy="632.7" r="0.9" fill="#8ad0db" fill-opacity="0.45"/>
<circle cx="1050.8" cy="452.9" r="0.7" fill="#8ad0db" fill-opacity="0.45"/>
<circle cx="1012.1" cy="556.0" r="0.5" fill="#8ad0db" fill-opacity="0.45"/>
<circle cx="1110.5" cy="651.7" r="0.5" fill="#8ad0db" fill-opacity="0.45"/>
<circle cx="1085.4" cy="529.8" r="0.7" fill="#8ad0db" fill-opacity="0.45"/>
<circle cx="1225.3" cy="662.6" r="0.7" fill="#8ad0db" fill-opacity="0.45"/>
<circle cx="793.7" cy="653.7" r="0.5" fill="#8ad0db" fill-opacity="0.45"/>
<circle cx="909.6" cy="632.8" r="0.6" fill="#8ad0db" fill-opacity="0.45"/>
<circle cx="840.4" cy="660.3" r="0.9" fill="#8ad0db" fill-opacity="0.45"/>
<circle cx="869.0" cy="534.6" r="0.5" fill="#8ad0db" fill-opacity="0.45"/>
<circle cx="754.5" cy="502.5" r="0.9" fill="#8ad0db" fill-opacity="0.45"/>
<circle cx="722.3" cy="497.8" r="0.5" fill="#8ad0db" fill-opacity="0.45"/>
<circle cx="722.5" cy="564.7" r="0.8" fill="#8ad0db" fill-opacity="0.45"/>
<circle cx="1189.9" cy="588.4" r="0.8" fill="#8ad0db" fill-opacity="0.45"/>
<circle cx="676.8" cy="509.7" r="0.9" fill="#8ad0db" fill-opacity="0.45"/>
<circle cx="716.2" cy="506.4" r="0.6" fill="#8ad0db" fill-opacity="0.45"/>
<circle cx="838.5" cy="569.2" r="0.4" fill="#8ad0db" fill-opacity="0.45"/>
<circle cx="818.8" cy="662.0" r="0.5" fill="#8ad0db" fill-opacity="0.45"/>
<circle cx="1231.3" cy="486.1" r="0.9" fill="#8ad0db" fill-opacity="0.45"/>
<circle cx="1089.1" cy="591.9" r="0.5" fill="#8ad0db" fill-opacity="0.45"/>
<circle cx="707.1" cy="617.3" r="0.5" fill="#8ad0db" fill-opacity="0.45"/>
<circle cx="790.3" cy="631.6" r="0.8" fill="#8ad0db" fill-opacity="0.45"/>
<circle cx="703.6" cy="662.7" r="0.7" fill="#8ad0db" fill-opacity="0.45"/>
<circle cx="909.0" cy="470.2" r="0.6" fill="#8ad0db" fill-opacity="0.45"/>
<circle cx="1281.8" cy="509.3" r="0.5" fill="#8ad0db" fill-opacity="0.45"/>
<circle cx="763.0" cy="474.6" r="0.6" fill="#8ad0db" fill-opacity="0.45"/>
<circle cx="1237.1" cy="463.4" r="0.5" fill="#8ad0db" fill-opacity="0.45"/>
<circle cx="1252.1" cy="670.9" r="0.9" fill="#8ad0db" fill-opacity="0.45"/>
<circle cx="825.0" cy="525.9" r="0.9" fill="#8ad0db" fill-opacity="0.45"/>
<circle cx="972.3" cy="604.7" r="0.6" fill="#8ad0db" fill-opacity="0.45"/>
<circle cx="686.6" cy="523.9" r="0.8" fill="#8ad0db" fill-opacity="0.45"/>
<circle cx="1155.2" cy="574.3" r="0.6" fill="#8ad0db" fill-opacity="0.45"/>
<circle cx="1005.0" cy="545.8" r="0.7" fill="#8ad0db" fill-opacity="0.45"/>
<circle cx="1186.6" cy="491.2" r="0.7" fill="#8ad0db" fill-opacity="0.45"/>
<circle cx="1248.1" cy="637.4" r="0.5" fill="#8ad0db" fill-opacity="0.45"/>
<circle cx="1267.0" cy="635.5" r="0.5" fill="#8ad0db" fill-opacity="0.45"/>
<circle cx="837.3" cy="491.7" r="0.4" fill="#8ad0db" fill-opacity="0.45"/>
<circle cx="1276.2" cy="538.3" r="0.8" fill="#8ad0db" fill-opacity="0.45"/>
<circle cx="744.1" cy="449.1" r="0.8" fill="#8ad0db" fill-opacity="0.45"/>
<circle cx="1162.6" cy="669.7" r="0.7" fill="#8ad0db" fill-opacity="0.45"/>
<circle cx="997.0" cy="618.8" r="0.4" fill="#8ad0db" fill-opacity="0.45"/>
<circle cx="1006.4" cy="545.5" r="0.5" fill="#8ad0db" fill-opacity="0.45"/>
<circle cx="1043.3" cy="518.9" r="0.7" fill="#8ad0db" fill-opacity="0.45"/>
<circle cx="903.6" cy="517.8" r="0.6" fill="#8ad0db" fill-opacity="0.45"/>
<circle cx="1043.7" cy="667.2" r="0.9" fill="#8ad0db" fill-opacity="0.45"/>
<circle cx="1204.6" cy="634.4" r="0.5" fill="#8ad0db" fill-opacity="0.45"/>
<circle cx="1275.2" cy="506.9" r="0.5" fill="#8ad0db" fill-opacity="0.45"/>
<circle cx="982.0" cy="611.2" r="0.6" fill="#8ad0db" fill-opacity="0.45"/>
<circle cx="1071.0" cy="509.7" r="0.9" fill="#8ad0db" fill-opacity="0.45"/>
<circle cx="952.5" cy="553.8" r="0.7" fill="#8ad0db" fill-opacity="0.45"/>
<circle cx="1212.4" cy="668.6" r="0.7" fill="#8ad0db" fill-opacity="0.45"/>
<circle cx="945.5" cy="585.4" r="0.4" fill="#8ad0db" fill-opacity="0.45"/>
<circle cx="935.6" cy="637.2" r="0.8" fill="#8ad0db" fill-opacity="0.45"/>
<circle cx="710.1" cy="638.8" r="0.6" fill="#8ad0db" fill-opacity="0.45"/>
<circle cx="1278.0" cy="528.7" r="0.5" fill="#8ad0db" fill-opacity="0.45"/>
<circle cx="1011.5" cy="645.4" r="0.6" fill="#8ad0db" fill-opacity="0.45"/>
<circle cx="1207.9" cy="606.5" r="0.6" fill="#8ad0db" fill-opacity="0.45"/>
<circle cx="858.7" cy="560.0" r="0.6" fill="#8ad0db" fill-opacity="0.45"/>
<circle cx="903.0" cy="593.0" r="0.8" fill="#8ad0db" fill-opacity="0.45"/>
<circle cx="1033.5" cy="479.0" r="0.5" fill="#8ad0db" fill-opacity="0.45"/>
<circle cx="902.0" cy="584.7" r="0.5" fill="#8ad0db" fill-opacity="0.45"/>
<circle cx="723.7" cy="518.3" r="0.5" fill="#8ad0db" fill-opacity="0.45"/>
<circle cx="691.7" cy="567.6" r="0.9" fill="#8ad0db" fill-opacity="0.45"/>
<circle cx="1002.7" cy="612.4" r="0.8" fill="#8ad0db" fill-opacity="0.45"/>
<circle cx="1189.5" cy="652.0" r="0.6" fill="#8ad0db" fill-opacity="0.45"/>
<circle cx="1093.9" cy="473.2" r="0.8" fill="#8ad0db" fill-opacity="0.45"/>
<circle cx="906.5" cy="553.2" r="0.8" fill="#8ad0db" fill-opacity="0.45"/>
<circle cx="850.1" cy="488.8" r="0.8" fill="#8ad0db" fill-opacity="0.45"/>
<circle cx="1042.4" cy="465.1" r="0.4" fill="#8ad0db" fill-opacity="0.45"/>
<circle cx="889.9" cy="447.7" r="0.8" fill="#8ad0db" fill-opacity="0.45"/>
<circle cx="786.6" cy="507.9" r="0.6" fill="#8ad0db" fill-opacity="0.45"/>
<circle cx="988.7" cy="543.5" r="0.7" fill="#8ad0db" fill-opacity="0.45"/>
<circle cx="1080.0" cy="544.4" r="0.4" fill="#8ad0db" fill-opacity="0.45"/>
<circle cx="1276.6" cy="601.9" r="0.4" fill="#8ad0db" fill-opacity="0.45"/>
<circle cx="945.6" cy="616.0" r="0.9" fill="#8ad0db" fill-opacity="0.45"/>
<circle cx="714.2" cy="448.1" r="0.6" fill="#8ad0db" fill-opacity="0.45"/>
<circle cx="933.5" cy="647.8" r="0.8" fill="#8ad0db" fill-opacity="0.45"/>
<circle cx="877.7" cy="540.5" r="0.7" fill="#8ad0db" fill-opacity="0.45"/>
<circle cx="1218.1" cy="491.6" r="0.6" fill="#8ad0db" fill-opacity="0.45"/>
<circle cx="728.0" cy="590.7" r="0.4" fill="#8ad0db" fill-opacity="0.45"/>
<circle cx="1249.5" cy="564.2" r="0.7" fill="#8ad0db" fill-opacity="0.45"/>
<circle cx="726.0" cy="498.4" r="0.6" fill="#8ad0db" fill-opacity="0.45"/>
<circle cx="1201.6" cy="567.6" r="0.5" fill="#8ad0db" fill-opacity="0.45"/>
<circle cx="1278.5" cy="595.2" r="0.7" fill="#8ad0db" fill-opacity="0.45"/>
<circle cx="798.2" cy="513.4" r="0.8" fill="#8ad0db" fill-opacity="0.45"/>
<circle cx="755.4" cy="565.9" r="0.7" fill="#8ad0db" fill-opacity="0.45"/>
<circle cx="892.1" cy="619.4" r="0.9" fill="#8ad0db" fill-opacity="0.45"/>
<circle cx="1201.7" cy="612.5" r="0.5" fill="#8ad0db" fill-opacity="0.45"/>
<circle cx="710.4" cy="543.6" r="0.6" fill="#8ad0db" fill-opacity="0.45"/>
<circle cx="792.9" cy="642.6" r="0.5" fill="#8ad0db" fill-opacity="0.45"/>
<circle cx="1180.3" cy="657.5" r="0.5" fill="#8ad0db" fill-opacity="0.45"/>
<circle cx="1236.3" cy="535.6" r="0.5" fill="#8ad0db" fill-opacity="0.45"/>
<circle cx="788.4" cy="454.5" r="0.6" fill="#8ad0db" fill-opacity="0.45"/>
<circle cx="910.2" cy="638.1" r="0.8" fill="#8ad0db" fill-opacity="0.45"/>
<circle cx="708.6" cy="536.5" r="0.6" fill="#8ad0db" fill-opacity="0.45"/>
<circle cx="782.9" cy="502.6" r="0.5" fill="#8ad0db" fill-opacity="0.45"/>
<circle cx="1101.1" cy="522.8" r="0.5" fill="#8ad0db" fill-opacity="0.45"/>
<circle cx="809.3" cy="545.8" r="0.7" fill="#8ad0db" fill-opacity="0.45"/>
<circle cx="824.7" cy="603.8" r="0.5" fill="#8ad0db" fill-opacity="0.45"/>
<circle cx="1086.7" cy="583.5" r="0.5" fill="#8ad0db" fill-opacity="0.45"/>
<circle cx="1136.1" cy="534.9" r="0.7" fill="#8ad0db" fill-opacity="0.45"/>
<circle cx="1041.7" cy="587.7" r="0.6" fill="#8ad0db" fill-opacity="0.45"/>
<circle cx="708.0" cy="623.5" r="0.8" fill="#8ad0db" fill-opacity="0.45"/>
<circle cx="975.4" cy="576.6" r="0.5" fill="#8ad0db" fill-opacity="0.45"/>
<circle cx="1227.1" cy="600.7" r="0.5" fill="#8ad0db" fill-opacity="0.45"/>
<circle cx="1177.1" cy="668.5" r="0.6" fill="#8ad0db" fill-opacity="0.45"/>
<circle cx="1286.7" cy="555.0" r="0.5" fill="#8ad0db" fill-opacity="0.45"/>
<circle cx="1115.1" cy="522.4" r="0.8" fill="#8ad0db" fill-opacity="0.45"/>
<circle cx="1032.9" cy="470.3" r="0.7" fill="#8ad0db" fill-opacity="0.45"/>
<circle cx="1197.6" cy="553.8" r="0.7" fill="#8ad0db" fill-opacity="0.45"/>
<circle cx="1205.2" cy="546.8" r="0.6" fill="#8ad0db" fill-opacity="0.45"/>
<circle cx="1032.5" cy="631.9" r="0.5" fill="#8ad0db" fill-opacity="0.45"/>
<circle cx="731.1" cy="617.7" r="0.7" fill="#8ad0db" fill-opacity="0.45"/>
<circle cx="860.0" cy="647.3" r="0.8" fill="#8ad0db" fill-opacity="0.45"/>
<circle cx="1007.0" cy="669.0" r="0.8" fill="#8ad0db" fill-opacity="0.45"/>
<circle cx="1134.3" cy="511.7" r="0.4" fill="#8ad0db" fill-opacity="0.45"/>
<circle cx="1091.5" cy="611.8" r="0.6" fill="#8ad0db" fill-opacity="0.45"/>
<circle cx="968.4" cy="574.0" r="0.5" fill="#8ad0db" fill-opacity="0.45"/>
<circle cx="1103.2" cy="572.9" r="0.6" fill="#8ad0db" fill-opacity="0.45"/>
<circle cx="741.0" cy="571.0" r="0.6" fill="#8ad0db" fill-opacity="0.45"/>
<circle cx="1120.0" cy="484.9" r="0.6" fill="#8ad0db" fill-opacity="0.45"/>
<circle cx="794.4" cy="538.1" r="0.7" fill="#8ad0db" fill-opacity="0.45"/>
<circle cx="739.4" cy="458.4" r="0.6" fill="#8ad0db" fill-opacity="0.45"/>
<circle cx="797.7" cy="559.9" r="0.5" fill="#8ad0db" fill-opacity="0.45"/>
<circle cx="735.6" cy="567.3" r="0.9" fill="#8ad0db" fill-opacity="0.45"/>
<circle cx="1208.5" cy="562.3" r="0.6" fill="#8ad0db" fill-opacity="0.45"/>
<circle cx="714.2" cy="508.3" r="0.6" fill="#8ad0db" fill-opacity="0.45"/>
<circle cx="1253.5" cy="472.4" r="0.9" fill="#8ad0db" fill-opacity="0.45"/>
<circle cx="967.2" cy="543.9" r="0.5" fill="#8ad0db" fill-opacity="0.45"/>
<circle cx="1266.4" cy="488.0" r="0.7" fill="#8ad0db" fill-opacity="0.45"/>
<circle cx="988.1" cy="491.0" r="0.5" fill="#8ad0db" fill-opacity="0.45"/>
<circle cx="1280.5" cy="624.4" r="0.8" fill="#8ad0db" fill-opacity="0.45"/>
<circle cx="1229.7" cy="468.2" r="0.8" fill="#8ad0db" fill-opacity="0.45"/>
<circle cx="1135.8" cy="496.8" r="0.6" fill="#8ad0db" fill-opacity="0.45"/>
<circle cx="1273.7" cy="519.7" r="0.8" fill="#8ad0db" fill-opacity="0.45"/>
<circle cx="775.3" cy="596.5" r="0.5" fill="#8ad0db" fill-opacity="0.45"/>
<circle cx="986.9" cy="530.0" r="0.8" fill="#8ad0db" fill-opacity="0.45"/>
<circle cx="1132.3" cy="559.7" r="0.7" fill="#8ad0db" fill-opacity="0.45"/>
<circle cx="936.9" cy="627.4" r="0.5" fill="#8ad0db" fill-opacity="0.45"/>
<circle cx="1008.7" cy="578.1" r="0.6" fill="#8ad0db" fill-opacity="0.45"/>
<circle cx="702.2" cy="484.3" r="0.7" fill="#8ad0db" fill-opacity="0.45"/>
<circle cx="803.7" cy="617.0" r="0.7" fill="#8ad0db" fill-opacity="0.45"/>
<circle cx="1260.6" cy="637.3" r="0.8" fill="#8ad0db" fill-opacity="0.45"/>
<circle cx="903.0" cy="455.8" r="0.7" fill="#8ad0db" fill-opacity="0.45"/>
<circle cx="1132.8" cy="653.8" r="0.5" fill="#8ad0db" fill-opacity="0.45"/>
<circle cx="771.1" cy="667.2" r="0.8" fill="#8ad0db" fill-opacity="0.45"/>
<circle cx="972.0" cy="612.6" r="0.5" fill="#8ad0db" fill-opacity="0.45"/>
<circle cx="1008.6" cy="596.8" r="0.7" fill="#8ad0db" fill-opacity="0.45"/>
<circle cx="772.8" cy="476.9" r="0.7" fill="#8ad0db" fill-opacity="0.45"/>
<circle cx="1218.3" cy="477.2" r="0.4" fill="#8ad0db" fill-opacity="0.45"/>
<circle cx="724.5" cy="623.1" r="0.6" fill="#8ad0db" fill-opacity="0.45"/>
<circle cx="954.3" cy="670.3" r="0.7" fill="#8ad0db" fill-opacity="0.45"/>
<circle cx="835.7" cy="604.1" r="0.4" fill="#8ad0db" fill-opacity="0.45"/>
<circle cx="846.9" cy="603.6" r="0.5" fill="#8ad0db" fill-opacity="0.45"/>
<circle cx="693.6" cy="562.9" r="0.6" fill="#8ad0db" fill-opacity="0.45"/>
<circle cx="1271.8" cy="468.9" r="0.8" fill="#8ad0db" fill-opacity="0.45"/>
<circle cx="912.8" cy="627.7" r="0.6" fill="#8ad0db" fill-opacity="0.45"/>
<circle cx="1084.6" cy="519.7" r="0.5" fill="#8ad0db" fill-opacity="0.45"/>
<circle cx="952.2" cy="626.5" r="0.6" fill="#8ad0db" fill-opacity="0.45"/>
<circle cx="815.1" cy="539.8" r="0.4" fill="#8ad0db" fill-opacity="0.45"/>
<circle cx="868.0" cy="575.2" r="0.7" fill="#8ad0db" fill-opacity="0.45"/>
<circle cx="1041.5" cy="511.4" r="0.4" fill="#8ad0db" fill-opacity="0.45"/>
<circle cx="689.8" cy="522.5" r="0.5" fill="#8ad0db" fill-opacity="0.45"/>
<circle cx="1024.0" cy="505.9" r="0.8" fill="#8ad0db" fill-opacity="0.45"/>
<circle cx="1043.9" cy="595.4" r="0.8" fill="#8ad0db" fill-opacity="0.45"/>
<circle cx="994.8" cy="542.2" r="0.6" fill="#8ad0db" fill-opacity="0.45"/>
<circle cx="712.3" cy="625.2" r="0.7" fill="#8ad0db" fill-opacity="0.45"/>
<circle cx="734.9" cy="655.0" r="0.7" fill="#8ad0db" fill-opacity="0.45"/>
<circle cx="1057.6" cy="545.0" r="0.5" fill="#8ad0db" fill-opacity="0.45"/>
<circle cx="1289.2" cy="483.9" r="0.6" fill="#8ad0db" fill-opacity="0.45"/>
<circle cx="1289.1" cy="473.5" r="0.6" fill="#8ad0db" fill-opacity="0.45"/>
<circle cx="969.0" cy="501.9" r="0.9" fill="#8ad0db" fill-opacity="0.45"/>
<circle cx="928.6" cy="448.6" r="0.6" fill="#8ad0db" fill-opacity="0.45"/>
<circle cx="676.4" cy="605.8" r="0.8" fill="#8ad0db" fill-opacity="0.45"/>
<circle cx="1231.4" cy="456.8" r="0.7" fill="#8ad0db" fill-opacity="0.45"/>
<circle cx="861.2" cy="552.6" r="0.6" fill="#8ad0db" fill-opacity="0.45"/>
<circle cx="861.4" cy="475.9" r="0.7" fill="#8ad0db" fill-opacity="0.45"/>
<circle cx="728.1" cy="663.5" r="0.4" fill="#8ad0db" fill-opacity="0.45"/>
<circle cx="1267.4" cy="489.2" r="0.4" fill="#8ad0db" fill-opacity="0.45"/>
<circle cx="1132.3" cy="565.8" r="0.8" fill="#8ad0db" fill-opacity="0.45"/>
<circle cx="986.7" cy="588.3" r="0.4" fill="#8ad0db" fill-opacity="0.45"/>
<circle cx="1088.6" cy="561.6" r="0.9" fill="#8ad0db" fill-opacity="0.45"/>
<circle cx="677.3" cy="461.4" r="0.7" fill="#8ad0db" fill-opacity="0.45"/>
<circle cx="1244.0" cy="541.1" r="0.8" fill="#8ad0db" fill-opacity="0.45"/>
<circle cx="1018.8" cy="534.2" r="0.6" fill="#8ad0db" fill-opacity="0.45"/>
<circle cx="1044.1" cy="452.5" r="0.6" fill="#8ad0db" fill-opacity="0.45"/>
<circle cx="1128.1" cy="504.2" r="0.6" fill="#8ad0db" fill-opacity="0.45"/>
<circle cx="831.6" cy="526.7" r="0.7" fill="#8ad0db" fill-opacity="0.45"/>
<circle cx="1131.6" cy="661.9" r="0.6" fill="#8ad0db" fill-opacity="0.45"/>
<circle cx="798.4" cy="522.0" r="0.4" fill="#8ad0db" fill-opacity="0.45"/>
<circle cx="821.1" cy="577.9" r="0.7" fill="#8ad0db" fill-opacity="0.45"/>
<circle cx="822.3" cy="487.0" r="0.4" fill="#8ad0db" fill-opacity="0.45"/>
<circle cx="783.5" cy="559.1" r="0.5" fill="#8ad0db" fill-opacity="0.45"/>
<circle cx="1217.9" cy="573.4" r="0.6" fill="#8ad0db" fill-opacity="0.45"/>
<circle cx="939.0" cy="455.0" r="0.8" fill="#8ad0db" fill-opacity="0.45"/>
<circle cx="1136.2" cy="528.0" r="0.8" fill="#8ad0db" fill-opacity="0.45"/>
<circle cx="841.3" cy="495.5" r="0.5" fill="#8ad0db" fill-opacity="0.45"/>
<circle cx="794.7" cy="582.7" r="0.7" fill="#8ad0db" fill-opacity="0.45"/>
<circle cx="1121.8" cy="469.4" r="0.8" fill="#8ad0db" fill-opacity="0.45"/>
<circle cx="968.1" cy="531.4" r="0.7" fill="#8ad0db" fill-opacity="0.45"/>
<circle cx="940.1" cy="491.1" r="0.6" fill="#8ad0db" fill-opacity="0.45"/>
<circle cx="1071.5" cy="607.4" r="0.9" fill="#8ad0db" fill-opacity="0.45"/>
<circle cx="793.2" cy="647.0" r="0.8" fill="#8ad0db" fill-opacity="0.45"/>
<circle cx="1112.7" cy="667.0" r="0.5" fill="#8ad0db" fill-opacity="0.45"/>
<circle cx="1151.9" cy="648.9" r="0.5" fill="#8ad0db" fill-opacity="0.45"/>
<circle cx="1039.8" cy="659.6" r="0.5" fill="#8ad0db" fill-opacity="0.45"/>
<circle cx="1200.3" cy="650.5" r="0.6" fill="#8ad0db" fill-opacity="0.45"/>
<circle cx="762.9" cy="494.6" r="0.8" fill="#8ad0db" fill-opacity="0.45"/>
<circle cx="933.6" cy="517.2" r="0.6" fill="#8ad0db" fill-opacity="0.45"/>
<circle cx="1245.3" cy="503.3" r="0.4" fill="#8ad0db" fill-opacity="0.45"/>
<circle cx="1258.2" cy="517.5" r="0.6" fill="#8ad0db" fill-opacity="0.45"/>
<circle cx="1274.6" cy="509.6" r="0.4" fill="#8ad0db" fill-opacity="0.45"/>
<circle cx="1220.3" cy="501.0" r="0.5" fill="#8ad0db" fill-opacity="0.45"/>
<circle cx="1251.1" cy="497.7" r="0.9" fill="#8ad0db" fill-opacity="0.45"/>
<circle cx="878.7" cy="514.4" r="0.5" fill="#8ad0db" fill-opacity="0.45"/>
<circle cx="1007.6" cy="572.4" r="0.6" fill="#8ad0db" fill-opacity="0.45"/>
<circle cx="986.1" cy="513.3" r="0.8" fill="#8ad0db" fill-opacity="0.45"/>
<circle cx="1248.8" cy="615.9" r="0.8" fill="#8ad0db" fill-opacity="0.45"/>
<circle cx="717.1" cy="502.5" r="0.5" fill="#8ad0db" fill-opacity="0.45"/>
<circle cx="768.9" cy="664.5" r="0.9" fill="#8ad0db" fill-opacity="0.45"/>
<circle cx="1236.6" cy="571.8" r="0.5" fill="#8ad0db" fill-opacity="0.45"/>
<circle cx="936.6" cy="458.7" r="0.9" fill="#8ad0db" fill-opacity="0.45"/>
<circle cx="837.1" cy="511.0" r="0.9" fill="#8ad0db" fill-opacity="0.45"/>
<g transform="translate(733.8,545.2) rotate(-33.4)">
<clipPath id="cap733"><rect x="-38.5" y="-14.5" width="77" height="29" rx="14.5"/></clipPath>
<g clip-path="url(#cap733)">
<rect x="-38.5" y="-14.5" width="38.5" height="29" fill="#c8da3a"/>
<rect x="-38.5" y="2.175" width="38.5" height="29" fill="#b2c13a"/>
<rect x="0" y="-14.5" width="38.5" height="29" fill="#167f9e"/>
<rect x="0" y="2.175" width="38.5" height="29" fill="#106c88"/>
</g></g>
<g transform="translate(766.7,559.6) rotate(-14.2)">
<clipPath id="cap766"><rect x="-37.5" y="-16.0" width="75" height="32" rx="16.0"/></clipPath>
<g clip-path="url(#cap766)">
<rect x="-37.5" y="-16.0" width="37.5" height="32" fill="#c8da3a"/>
<rect x="-37.5" y="2.4" width="37.5" height="32" fill="#b2c13a"/>
<rect x="0" y="-16.0" width="37.5" height="32" fill="#167f9e"/>
<rect x="0" y="2.4" width="37.5" height="32" fill="#106c88"/>
</g></g>
<circle cx="749.5" cy="608.5" r="19.5" fill="#cfd2df"/>
<circle cx="749.5" cy="607.3" r="19" fill="#eceef6"/>
<line x1="743.5" y1="594.3" x2="755.5" y2="619.3" stroke="#a9adbb" stroke-width="2.2" stroke-linecap="round"/>
<circle cx="790.4" cy="623.1" r="19.5" fill="#cfd2df"/>
<circle cx="790.4" cy="621.9" r="19" fill="#eceef6"/>
<line x1="792.9" y1="607.9" x2="787.9" y2="635.9" stroke="#a9adbb" stroke-width="2.2" stroke-linecap="round"/>
<circle cx="769.7" cy="660.0" r="19.5" fill="#cfd2df"/>
<circle cx="769.7" cy="658.8" r="19" fill="#eceef6"/>
<line x1="768.2" y1="644.8" x2="771.2" y2="672.8" stroke="#a9adbb" stroke-width="2.2" stroke-linecap="round"/>
<rect x="895" y="559.5" width="107" height="38.3" fill="#7cc254"/>
<rect x="895" y="586" width="107" height="11.8" fill="#6fb14e"/>
<clipPath id="gw857"><rect x="857.3" y="546.7" width="40.2" height="65.1" rx="9"/></clipPath>
<g clip-path="url(#gw857)"><rect x="857.3" y="546.7" width="40.2" height="65.1" fill="#c4d643"/><rect x="857.3" y="591.4" width="40.2" height="21" fill="#aab93f"/></g>
<clipPath id="gw999"><rect x="999.6" y="546.7" width="40.2" height="65.1" rx="9"/></clipPath>
<g clip-path="url(#gw999)"><rect x="999.6" y="546.7" width="40.2" height="65.1" fill="#c4d643"/><rect x="999.6" y="591.4" width="40.2" height="21" fill="#aab93f"/></g>
<g transform="translate(935.75,566.00) rotate(-29.19)">
<rect x="-16" y="-73.30799751732413" width="27" height="146.61599503464825" fill="#3c97aa" transform="translate(-6,4)"/>
<rect x="-13.5" y="-73.30799751732413" width="27" height="146.61599503464825" fill="#f05568"/>
<rect x="-13.5" y="-73.30799751732413" width="11" height="146.61599503464825" fill="#dc4f60"/>
<clipPath id="rw0"><rect x="-28" y="-93.30799751732413" width="56" height="40" rx="9"/></clipPath>
<g clip-path="url(#rw0)"><rect x="-28" y="-93.30799751732413" width="56" height="40" fill="#f26a6f"/><rect x="-28" y="-93.30799751732413" width="15" height="40" fill="#dd6068"/></g>
<clipPath id="rw2"><rect x="-28" y="53.307997517324125" width="56" height="40" rx="9"/></clipPath>
<g clip-path="url(#rw2)"><rect x="-28" y="53.307997517324125" width="56" height="40" fill="#f26a6f"/><rect x="-28" y="53.307997517324125" width="15" height="40" fill="#dd6068"/></g>
</g>
<path d="M915,440 L1065,501 L1107,495 L1113,468 L1103,440 Z" fill="#f4a29b" stroke="#dcc0c0" stroke-width="3" stroke-linejoin="round"/>
<path d="M944,440 L1024,440 L1024,482 L944,451.5 Z" fill="#f0556a"/>
<path d="M1024,440 L1034,440 L1034,486 L1024,482 Z" fill="#f48a86"/>
<path d="M1030,472 L1100,470 L1106,492 L1065,498 Z" fill="#ee8a87"/>
<circle cx="1039" cy="473" r="1.8" fill="#f8c0b6"/>
<circle cx="1046" cy="478" r="1.8" fill="#f8c0b6"/>
<circle cx="1062" cy="476" r="2.2" fill="#f8c0b6"/>
<circle cx="1067" cy="484" r="2.5" fill="#f8c0b6"/>
<circle cx="1075" cy="480" r="2.5" fill="#f8c0b6"/>
<path d="M1113,460 L1133,469 L1127,500 L1107,492 Z" fill="#f05263"/>
<path d="M1113,460 L1133,469 L1131,479 L1110,472 Z" fill="#f37077"/>
<path d="M1132,477 L1141,481 L1137,497 L1128,494 Z" fill="#eef0f5"/>
<path d="M1120.1,540.2 C1129.2,540.5 1138.5,547.1 1146.9,556.9 C1155.3,566.6 1163.6,584.8 1170.3,598.7 C1177.0,612.6 1182.0,628.3 1187.0,640.5 C1192.0,652.7 1197.6,663.8 1200.4,672.0 C1203.2,680.2 1218.1,687.0 1204.0,690.0 C1189.9,693.0 1130.5,693.0 1116.0,690.0 C1101.5,687.0 1118.6,677.5 1116.8,672.0 C1115.0,666.5 1109.7,663.9 1105.0,657.2 C1100.3,650.6 1091.7,643.2 1088.4,632.1 C1085.1,621.0 1084.4,603.1 1085.0,590.3 C1085.6,577.4 1086.2,563.4 1092.0,555.0 C1097.8,546.6 1110.9,539.9 1120.1,540.2 Z" fill="#c6db3e" stroke="#1b9ec4" stroke-width="3"/>
<path d="M1123.5,551.5 C1129.7,552.2 1136.1,553.6 1143.0,562.0 C1149.9,570.4 1158.8,589.0 1165.0,602.0 C1171.2,615.0 1175.5,628.3 1180.0,640.0 C1184.5,651.7 1190.0,663.7 1192.0,672.0 C1194.0,680.3 1203.3,687.0 1192.0,690.0 C1180.7,693.0 1136.0,693.0 1124.0,690.0 C1112.0,687.0 1123.0,678.7 1120.0,672.0 C1117.0,665.3 1109.7,659.5 1106.0,650.0 C1102.3,640.5 1099.3,627.0 1098.0,615.0 C1096.7,603.0 1096.7,587.5 1098.0,578.0 C1099.3,568.5 1101.8,562.4 1106.0,558.0 C1110.2,553.6 1117.3,550.8 1123.5,551.5 Z" fill="#d6e8f2"/>
<path d="M1099,590 C1100,615 1108,645 1126,672 L1140,672 C1124,645 1110,618 1105,590 Z" fill="#b8cad8"/>
<path d="M1114,612 C1126,602 1140,596 1152,596 C1164,616 1174,645 1182,672 L1140,672 C1128,650 1119,632 1114,612 Z" fill="#bfdbea"/>
<path d="M1123.7,628.0 Q1127.8,614.7 1134.8,612.2" fill="none" stroke="#4aa6cf" stroke-width="5.4" stroke-linecap="round"/>
<path d="M1127.1,640.3 Q1135.7,625.6 1142.7,623.1" fill="none" stroke="#4aa6cf" stroke-width="5.4" stroke-linecap="round"/>
<path d="M1130.5,650.9 Q1142.5,634.5 1149.5,632.0" fill="none" stroke="#4aa6cf" stroke-width="5.4" stroke-linecap="round"/>
<path d="M1133.9,662.2 Q1148.7,644.1 1155.7,641.6" fill="none" stroke="#4aa6cf" stroke-width="5.4" stroke-linecap="round"/>
<path d="M1137.3,673.5 Q1154.8,653.7 1161.8,651.2" fill="none" stroke="#4aa6cf" stroke-width="5.4" stroke-linecap="round"/>
<path d="M1131.8,612.7 L1154.8,610.2" fill="none" stroke="#1f97c0" stroke-width="5.4" stroke-linecap="round"/>
<path d="M1139.7,623.6 L1162.7,621.1" fill="none" stroke="#1f97c0" stroke-width="5.4" stroke-linecap="round"/>
<path d="M1146.5,632.5 L1169.5,630.0" fill="none" stroke="#1f97c0" stroke-width="5.4" stroke-linecap="round"/>
<path d="M1152.7,642.1 L1175.7,639.6" fill="none" stroke="#1f97c0" stroke-width="5.4" stroke-linecap="round"/>
<path d="M1158.8,651.7 L1181.8,649.2" fill="none" stroke="#1f97c0" stroke-width="5.4" stroke-linecap="round"/>
<circle cx="1123.7" cy="628" r="1.9" fill="#17506c"/>
<circle cx="1127.1" cy="640.3" r="1.9" fill="#17506c"/>
<circle cx="1130.5" cy="650.9" r="1.9" fill="#17506c"/>
<circle cx="1133.9" cy="662.2" r="1.9" fill="#17506c"/>
<circle cx="1154.8" cy="610.2" r="1.9" fill="#17506c"/>
<circle cx="1162.7" cy="621.1" r="1.9" fill="#17506c"/>
<circle cx="1169.5" cy="630" r="1.9" fill="#17506c"/>
<circle cx="1175.7" cy="639.6" r="1.9" fill="#17506c"/>
<circle cx="1181.8" cy="649.2" r="1.9" fill="#17506c"/>
<path d="M1163,657.5 L1185,655.7 L1200,672" fill="none" stroke="#1f97c0" stroke-width="4.5" stroke-linejoin="round"/>
<path d="M1195.3,501.7 C1205.4,503.1 1220.4,510.9 1230.4,520.1 C1240.4,529.3 1249.1,545.2 1255.5,556.9 C1261.9,568.6 1264.7,577.8 1268.9,590.3 C1273.1,602.8 1276.1,622.1 1280.6,632.1 C1285.1,642.1 1293.4,640.4 1296.0,650.0 C1298.6,659.6 1306.7,683.3 1296.0,690.0 C1285.3,696.7 1243.5,693.0 1232.0,690.0 C1220.5,687.0 1230.1,681.6 1227.1,672.0 C1224.0,662.4 1219.3,642.9 1213.7,632.1 C1208.1,621.3 1200.4,616.8 1193.7,607.0 C1187.0,597.2 1178.3,586.1 1173.6,573.6 C1168.9,561.1 1165.9,542.1 1165.3,531.8 C1164.7,521.5 1165.0,517.0 1170.0,512.0 C1175.0,507.0 1185.2,500.3 1195.3,501.7 Z" fill="#c6db3e" stroke="#1b9ec4" stroke-width="3"/>
<path d="M1197.0,514.5 C1204.7,515.5 1217.8,522.1 1226.0,530.0 C1234.2,537.9 1240.0,552.0 1246.0,562.0 C1252.0,572.0 1256.7,578.7 1262.0,590.0 C1267.3,601.3 1272.3,618.3 1278.0,630.0 C1283.7,641.7 1293.0,650.0 1296.0,660.0 C1299.0,670.0 1306.0,685.0 1296.0,690.0 C1286.0,695.0 1248.0,695.0 1236.0,690.0 C1224.0,685.0 1229.3,671.7 1224.0,660.0 C1218.7,648.3 1210.5,632.5 1204.0,620.0 C1197.5,607.5 1189.7,597.0 1185.0,585.0 C1180.3,573.0 1176.8,558.2 1176.0,548.0 C1175.2,537.8 1176.5,529.6 1180.0,524.0 C1183.5,518.4 1189.3,513.5 1197.0,514.5 Z" fill="#d6e8f2"/>
<path d="M1177,540 C1180,575 1192,610 1212,640 L1226,668 L1236,668 C1218,625 1196,590 1186,545 Z" fill="#b8cad8"/>
<path d="M1193,562 C1205,552 1220,548 1232,549 C1246,568 1258,592 1266,616 L1228,640 C1212,615 1200,590 1193,562 Z" fill="#bfdbea"/>
<path d="M1200.6,585.2 Q1206.1,573.0 1213.1,570.5" fill="none" stroke="#4aa6cf" stroke-width="5.4" stroke-linecap="round"/>
<path d="M1205.4,597.5 Q1213.3,582.9 1220.3,580.4" fill="none" stroke="#4aa6cf" stroke-width="5.4" stroke-linecap="round"/>
<path d="M1208.1,608.5 Q1220.1,592.1 1227.1,589.6" fill="none" stroke="#4aa6cf" stroke-width="5.4" stroke-linecap="round"/>
<path d="M1211.9,619.8 Q1226.6,601.7 1233.6,599.2" fill="none" stroke="#4aa6cf" stroke-width="5.4" stroke-linecap="round"/>
<path d="M1216.3,630.0 Q1232.4,611.3 1239.4,608.8" fill="none" stroke="#4aa6cf" stroke-width="5.4" stroke-linecap="round"/>
<path d="M1210.1,571.0 L1233.1,568.5" fill="none" stroke="#1f97c0" stroke-width="5.4" stroke-linecap="round"/>
<path d="M1217.3,580.9 L1240.3,578.4" fill="none" stroke="#1f97c0" stroke-width="5.4" stroke-linecap="round"/>
<path d="M1224.1,590.1 L1247.1,587.6" fill="none" stroke="#1f97c0" stroke-width="5.4" stroke-linecap="round"/>
<path d="M1230.6,599.7 L1253.6,597.2" fill="none" stroke="#1f97c0" stroke-width="5.4" stroke-linecap="round"/>
<path d="M1236.4,609.3 L1259.4,606.8" fill="none" stroke="#1f97c0" stroke-width="5.4" stroke-linecap="round"/>
<circle cx="1200.6" cy="585.2" r="1.9" fill="#17506c"/>
<circle cx="1205.4" cy="597.5" r="1.9" fill="#17506c"/>
<circle cx="1208.1" cy="608.5" r="1.9" fill="#17506c"/>
<circle cx="1211.9" cy="619.8" r="1.9" fill="#17506c"/>
<circle cx="1216.3" cy="630" r="1.9" fill="#17506c"/>
<circle cx="1233.1" cy="568.5" r="1.9" fill="#17506c"/>
<circle cx="1240.3" cy="578.4" r="1.9" fill="#17506c"/>
<circle cx="1247.1" cy="587.6" r="1.9" fill="#17506c"/>
<circle cx="1253.6" cy="597.2" r="1.9" fill="#17506c"/>
<circle cx="1259.4" cy="606.8" r="1.9" fill="#17506c"/>
<path d="M1228,615.7 L1264,615 L1275,628" fill="none" stroke="#1f97c0" stroke-width="4.5" stroke-linejoin="round"/>
<path d="M1224,626 L1262,614 L1270,634 L1232,656 Z" fill="#dce9f2"/>
<path d="M1227,660 L1270,636 L1296,652 L1296,690 L1234,690 Z" fill="#167fa0"/>
</g>
<rect x="25.5" y="446" width="709" height="55.6" rx="13" fill="#fff"/>
<path d="M59.6,457.8 L75.5,457.8 L81.9,464 L81.9,488.8 L59.6,488.8 Z" fill="#0a6fbe"/>
<g transform="translate(64.6,481.9) rotate(-45)"><path d="M0,0 L7.5,-4.6 L27,-4.6 L27,4.6 L7.5,4.6 Z" fill="#0a6fbe" stroke="#f2fbff" stroke-width="1.7" stroke-linejoin="round"/><line x1="7.5" y1="-4.6" x2="7.5" y2="4.6" stroke="#f2fbff" stroke-width="1.5"/><rect x="29" y="-4.6" width="4.5" height="9.2" fill="#0a6fbe"/></g>
<text x="104.0" y="482.5" font-size="31" font-weight="bold" fill="#0a6fbe" textLength="190.7" lengthAdjust="spacingAndGlyphs">Study design</text>
<text x="312.2" y="482.3" font-size="26" fill="#0a6fbe" textLength="43.7" lengthAdjust="spacingAndGlyphs" stroke="#fff" stroke-width="0.2">218</text>
<text x="362.8" y="482.3" font-size="26" fill="#24242f" textLength="90.3" lengthAdjust="spacingAndGlyphs" stroke="#fff" stroke-width="0.2">studies</text>
<rect x="476.8" y="456.4" width="2" height="33" fill="#0a6fbe"/>
<text x="495.8" y="482.3" font-size="26" fill="#0a6fbe" textLength="48.8" lengthAdjust="spacingAndGlyphs" stroke="#fff" stroke-width="0.2">495</text>
<text x="551.0" y="482.3" font-size="26" fill="#24242f" textLength="157.2" lengthAdjust="spacingAndGlyphs" stroke="#fff" stroke-width="0.2">unique arms</text>
<g fill="none" stroke="#0a6fbe" stroke-width="2.6" stroke-linecap="round"><path d="M57.8,533 L82.8,529"/><path d="M70.1,530 L70.1,555.5"/><path d="M57.8,533 L52.9,547 M57.8,533 L64.9,547"/><path d="M82.8,529 L75.5,543.5 M82.8,529 L88.2,543.5"/></g>
<circle cx="70.1" cy="529.5" r="2.3" fill="#0a6fbe"/>
<rect x="61.9" y="555" width="17.1" height="4.3" fill="#0a6fbe"/>
<path d="M52.3,546.2 L65.7,546.2 A6.7,6.5 0 0 1 52.3,546.2 Z" fill="#0a6fbe"/>
<path d="M74.8,542.8 L88.6,542.8 A6.9,6.5 0 0 1 74.8,542.8 Z" fill="#0a6fbe"/>
<text x="104.7" y="553.6" font-size="31" font-weight="bold" fill="#0a6fbe" textLength="179.5" lengthAdjust="spacingAndGlyphs">Comparison</text>
<text x="50.8" y="600.4" font-size="26" fill="#0a6fbe" textLength="601.4" lengthAdjust="spacingAndGlyphs" stroke="#c4cfeb" stroke-width="0.2">Different forms of exercise compared with other</text>
<text x="50.8" y="634.0" font-size="26" fill="#0a6fbe" textLength="581.6" lengthAdjust="spacingAndGlyphs" stroke="#c4cfeb" stroke-width="0.2">common treatments for depression. All results</text>
<text x="50.8" y="667.5" font-size="26" fill="#0a6fbe" textLength="611.0" lengthAdjust="spacingAndGlyphs" stroke="#c4cfeb" stroke-width="0.2">are presented as ‘compared with active controls.’</text>
<rect x="52.1" y="715.3" width="10.7" height="26.4" rx="3" fill="#0a6fbe"/>
<rect x="65.1" y="707.1" width="10.5" height="34.6" rx="3" fill="#0a6fbe"/>
<rect x="77.8" y="720" width="10.5" height="21.7" rx="3" fill="#0a6fbe"/>
<text x="104.3" y="740.3" font-size="31" font-weight="bold" fill="#0a6fbe" textLength="154.4" lengthAdjust="spacingAndGlyphs">Outcomes</text>
<path d="M434.5,730.5 L434.5,720 Q434.5,712 443,712 L460,712" fill="none" stroke="#2a2a35" stroke-width="1.6"/>
<path d="M1265,711 L1281,711 Q1289.5,711 1289.5,720 L1289.5,730.5" fill="none" stroke="#2a2a35" stroke-width="1.6"/>
<text x="473.1" y="721.2" font-size="26" fill="#24242f" textLength="673.3" lengthAdjust="spacingAndGlyphs" stroke="#c4cfeb" stroke-width="0.2">Network meta-analysis, standardised mean difference</text>
<text x="1159.1" y="721.2" font-size="26" fill="#7e8aa6" textLength="94.6" lengthAdjust="spacingAndGlyphs" stroke="#c4cfeb" stroke-width="0.2">95% CrI</text>
<text x="525.9" y="757.9" font-size="27" fill="#24242f" textLength="42.4" lengthAdjust="spacingAndGlyphs" stroke="#c4cfeb" stroke-width="0.2">-1.5</text>
<text x="663.1" y="757.9" font-size="27" fill="#24242f" textLength="43.8" lengthAdjust="spacingAndGlyphs" stroke="#c4cfeb" stroke-width="0.2">-1.0</text>
<text x="798.0" y="757.9" font-size="27" fill="#24242f" textLength="48.2" lengthAdjust="spacingAndGlyphs" stroke="#c4cfeb" stroke-width="0.2">-0.5</text>
<text x="951.1" y="757.9" font-size="27" fill="#24242f" textLength="17.2" lengthAdjust="spacingAndGlyphs" stroke="#c4cfeb" stroke-width="0.2">0</text>
<text x="1077.3" y="757.9" font-size="27" fill="#24242f" textLength="38.9" lengthAdjust="spacingAndGlyphs" stroke="#c4cfeb" stroke-width="0.2">0.5</text>
<text x="1216.4" y="757.9" font-size="27" fill="#24242f" textLength="33.8" lengthAdjust="spacingAndGlyphs" stroke="#c4cfeb" stroke-width="0.2">1.5</text>
<rect x="40" y="810.80" width="506" height="4.23" fill="#c2cce0"/>
<rect x="546" y="810.80" width="689.5" height="4.23" fill="#c8cce3"/>
<rect x="40" y="853.33" width="506" height="4.23" fill="#c2cce0"/>
<rect x="546" y="853.33" width="689.5" height="4.23" fill="#c8cce3"/>
<rect x="40" y="895.86" width="506" height="4.23" fill="#c2cce0"/>
<rect x="546" y="895.86" width="689.5" height="4.23" fill="#c8cce3"/>
<rect x="40" y="938.39" width="506" height="4.23" fill="#c2cce0"/>
<rect x="546" y="938.39" width="689.5" height="4.23" fill="#c8cce3"/>
<rect x="40" y="980.92" width="506" height="4.23" fill="#c2cce0"/>
<rect x="546" y="980.92" width="689.5" height="4.23" fill="#c8cce3"/>
<rect x="40" y="1023.45" width="506" height="4.23" fill="#c2cce0"/>
<rect x="546" y="1023.45" width="689.5" height="4.23" fill="#c8cce3"/>
<rect x="40" y="1065.98" width="506" height="4.23" fill="#c2cce0"/>
<rect x="546" y="1065.98" width="689.5" height="4.23" fill="#c8cce3"/>
<rect x="40" y="1108.51" width="506" height="4.23" fill="#c2cce0"/>
<rect x="546" y="1108.51" width="689.5" height="4.23" fill="#c8cce3"/>
<rect x="40" y="1151.04" width="506" height="4.23" fill="#c2cce0"/>
<rect x="546" y="1151.04" width="689.5" height="4.23" fill="#c8cce3"/>
<path d="M546.2,772.50 L41.5,772.50 Q25.5,772.50 25.5,788.50 L25.5,794.80 Q25.5,810.80 41.5,810.80 L546.2,810.80 Z" fill="#fff"/>
<rect x="546.2" y="772.50" width="689.3" height="38.3" fill="#e3e6f5"/>
<path d="M1235.5,772.50 L1270.45,772.50 A19.15,19.15 0 0 1 1270.45,810.80 L1235.5,810.80 Z" fill="#fff"/>
<rect x="1241.8" y="777.30" width="6.6" height="28.7" rx="1.5" fill="#f0a633"/>
<rect x="1251.7" y="777.30" width="6.6" height="28.7" rx="1.5" fill="#f0a633"/>
<rect x="1261.6" y="777.30" width="6.6" height="28.7" rx="1.5" fill="#fadfbb"/>
<rect x="1271.5" y="777.30" width="6.6" height="28.7" rx="1.5" fill="#fadfbb"/>
<path d="M546.2,772.50 L464.15,772.50 A19.15,19.15 0 0 0 464.15,810.80 L546.2,810.80 Z" fill="#05b0b1"/>
<circle cx="469.2" cy="782.50" r="3.4" fill="#fff"/>
<path d="M464.7,790.00 Q464.7,787.50 467,787.50 L471.4,787.50 Q473.7,787.50 473.7,790.00 L473.7,796.00 L471.8,797.00 L471.8,804.30 L466.6,804.30 L466.6,797.00 L464.7,796.00 Z" fill="#fff"/>
<text x="481.7" y="800.7" font-size="25.5" fill="#fff" textLength="45.4" lengthAdjust="spacingAndGlyphs" stroke="#05b0b1" stroke-width="0.35">1210</text>
<text x="49.7" y="802.1" font-size="28.5" fill="#24242f" textLength="231.7" lengthAdjust="spacingAndGlyphs" stroke="#fff" stroke-width="0.25">Walking or jogging</text>
<path d="M546.2,815.03 L41.5,815.03 Q25.5,815.03 25.5,831.03 L25.5,837.33 Q25.5,853.33 41.5,853.33 L546.2,853.33 Z" fill="#fff"/>
<rect x="546.2" y="815.03" width="689.3" height="38.3" fill="#e3e6f5"/>
<path d="M1235.5,815.03 A19.15,19.15 0 0 1 1235.5,853.33 Z" fill="#fff"/>
<path d="M546.2,815.03 L464.15,815.03 A19.15,19.15 0 0 0 464.15,853.33 L546.2,853.33 Z" fill="#05b0b1"/>
<circle cx="469.2" cy="825.03" r="3.4" fill="#fff"/>
<path d="M464.7,832.53 Q464.7,830.03 467,830.03 L471.4,830.03 Q473.7,830.03 473.7,832.53 L473.7,838.53 L471.8,839.53 L471.8,846.83 L466.6,846.83 L466.6,839.53 L464.7,838.53 Z" fill="#fff"/>
<text x="481.0" y="843.2" font-size="25.5" fill="#fff" textLength="35.5" lengthAdjust="spacingAndGlyphs" stroke="#05b0b1" stroke-width="0.35">712</text>
<text x="49.7" y="844.6" font-size="28.5" fill="#24242f" textLength="377.0" lengthAdjust="spacingAndGlyphs" stroke="#fff" stroke-width="0.25">Cognitive behavioural therapy</text>
<path d="M546.2,857.56 L41.5,857.56 Q25.5,857.56 25.5,873.56 L25.5,879.86 Q25.5,895.86 41.5,895.86 L546.2,895.86 Z" fill="#fff"/>
<rect x="546.2" y="857.56" width="689.3" height="38.3" fill="#e3e6f5"/>
<path d="M1235.5,857.56 L1270.45,857.56 A19.15,19.15 0 0 1 1270.45,895.86 L1235.5,895.86 Z" fill="#fff"/>
<rect x="1241.8" y="862.36" width="6.6" height="28.7" rx="1.5" fill="#f0a633"/>
<rect x="1251.7" y="862.36" width="6.6" height="28.7" rx="1.5" fill="#fadfbb"/>
<rect x="1261.6" y="862.36" width="6.6" height="28.7" rx="1.5" fill="#fadfbb"/>
<rect x="1271.5" y="862.36" width="6.6" height="28.7" rx="1.5" fill="#fadfbb"/>
<path d="M546.2,857.56 L464.15,857.56 A19.15,19.15 0 0 0 464.15,895.86 L546.2,895.86 Z" fill="#05b0b1"/>
<circle cx="469.2" cy="867.56" r="3.4" fill="#fff"/>
<path d="M464.7,875.06 Q464.7,872.56 467,872.56 L471.4,872.56 Q473.7,872.56 473.7,875.06 L473.7,881.06 L471.8,882.06 L471.8,889.36 L466.6,889.36 L466.6,882.06 L464.7,881.06 Z" fill="#fff"/>
<text x="481.5" y="885.8" font-size="25.5" fill="#fff" textLength="51.6" lengthAdjust="spacingAndGlyphs" stroke="#05b0b1" stroke-width="0.35">1047</text>
<text x="49.7" y="887.2" font-size="28.5" fill="#24242f" textLength="61.5" lengthAdjust="spacingAndGlyphs" stroke="#fff" stroke-width="0.25">Yoga</text>
<path d="M546.2,900.09 L41.5,900.09 Q25.5,900.09 25.5,916.09 L25.5,922.39 Q25.5,938.39 41.5,938.39 L546.2,938.39 Z" fill="#fff"/>
<rect x="546.2" y="900.09" width="689.3" height="38.3" fill="#e3e6f5"/>
<path d="M1235.5,900.09 L1270.45,900.09 A19.15,19.15 0 0 1 1270.45,938.39 L1235.5,938.39 Z" fill="#fff"/>
<rect x="1241.8" y="904.89" width="6.6" height="28.7" rx="1.5" fill="#f0a633"/>
<rect x="1251.7" y="904.89" width="6.6" height="28.7" rx="1.5" fill="#fadfbb"/>
<rect x="1261.6" y="904.89" width="6.6" height="28.7" rx="1.5" fill="#fadfbb"/>
<rect x="1271.5" y="904.89" width="6.6" height="28.7" rx="1.5" fill="#fadfbb"/>
<path d="M546.2,900.09 L464.15,900.09 A19.15,19.15 0 0 0 464.15,938.39 L546.2,938.39 Z" fill="#05b0b1"/>
<circle cx="469.2" cy="910.09" r="3.4" fill="#fff"/>
<path d="M464.7,917.59 Q464.7,915.09 467,915.09 L471.4,915.09 Q473.7,915.09 473.7,917.59 L473.7,923.59 L471.8,924.59 L471.8,931.89 L466.6,931.89 L466.6,924.59 L464.7,923.59 Z" fill="#fff"/>
<text x="486.5" y="928.3" font-size="25.5" fill="#fff" textLength="39.2" lengthAdjust="spacingAndGlyphs" stroke="#05b0b1" stroke-width="0.35">268</text>
<text x="49.7" y="929.7" font-size="28.5" fill="#24242f" textLength="188.6" lengthAdjust="spacingAndGlyphs" stroke="#fff" stroke-width="0.25">Exercise + SSRI</text>
<text x="237.6" y="918.1" font-size="15" fill="#24242f">*</text>
<path d="M546.2,942.62 L41.5,942.62 Q25.5,942.62 25.5,958.62 L25.5,964.92 Q25.5,980.92 41.5,980.92 L546.2,980.92 Z" fill="#fff"/>
<rect x="546.2" y="942.62" width="689.3" height="38.3" fill="#e3e6f5"/>
<path d="M1235.5,942.62 L1270.45,942.62 A19.15,19.15 0 0 1 1270.45,980.92 L1235.5,980.92 Z" fill="#fff"/>
<rect x="1241.8" y="947.42" width="6.6" height="28.7" rx="1.5" fill="#f0a633"/>
<rect x="1251.7" y="947.42" width="6.6" height="28.7" rx="1.5" fill="#fadfbb"/>
<rect x="1261.6" y="947.42" width="6.6" height="28.7" rx="1.5" fill="#fadfbb"/>
<rect x="1271.5" y="947.42" width="6.6" height="28.7" rx="1.5" fill="#fadfbb"/>
<path d="M546.2,942.62 L464.15,942.62 A19.15,19.15 0 0 0 464.15,980.92 L546.2,980.92 Z" fill="#05b0b1"/>
<circle cx="469.2" cy="952.62" r="3.4" fill="#fff"/>
<path d="M464.7,960.12 Q464.7,957.62 467,957.62 L471.4,957.62 Q473.7,957.62 473.7,960.12 L473.7,966.12 L471.8,967.12 L471.8,974.42 L466.6,974.42 L466.6,967.12 L464.7,966.12 Z" fill="#fff"/>
<text x="481.5" y="970.8" font-size="25.5" fill="#fff" textLength="42.2" lengthAdjust="spacingAndGlyphs" stroke="#05b0b1" stroke-width="0.35">404</text>
<text x="49.7" y="972.2" font-size="28.5" fill="#24242f" textLength="331.4" lengthAdjust="spacingAndGlyphs" stroke="#fff" stroke-width="0.25">Aerobic exercise + therapy</text>
<path d="M546.2,985.15 L41.5,985.15 Q25.5,985.15 25.5,1001.15 L25.5,1007.45 Q25.5,1023.45 41.5,1023.45 L546.2,1023.45 Z" fill="#fff"/>
<rect x="546.2" y="985.15" width="689.3" height="38.3" fill="#e3e6f5"/>
<path d="M1235.5,985.15 L1270.45,985.15 A19.15,19.15 0 0 1 1270.45,1023.45 L1235.5,1023.45 Z" fill="#fff"/>
<rect x="1241.8" y="989.95" width="6.6" height="28.7" rx="1.5" fill="#f0a633"/>
<rect x="1251.7" y="989.95" width="6.6" height="28.7" rx="1.5" fill="#fadfbb"/>
<rect x="1261.6" y="989.95" width="6.6" height="28.7" rx="1.5" fill="#fadfbb"/>
<rect x="1271.5" y="989.95" width="6.6" height="28.7" rx="1.5" fill="#fadfbb"/>
<path d="M546.2,985.15 L464.15,985.15 A19.15,19.15 0 0 0 464.15,1023.45 L546.2,1023.45 Z" fill="#05b0b1"/>
<circle cx="469.2" cy="995.15" r="3.4" fill="#fff"/>
<path d="M464.7,1002.65 Q464.7,1000.15 467,1000.15 L471.4,1000.15 Q473.7,1000.15 473.7,1002.65 L473.7,1008.65 L471.8,1009.65 L471.8,1016.95 L466.6,1016.95 L466.6,1009.65 L464.7,1008.65 Z" fill="#fff"/>
<text x="482.0" y="1013.4" font-size="25.5" fill="#fff" textLength="40.2" lengthAdjust="spacingAndGlyphs" stroke="#05b0b1" stroke-width="0.35">643</text>
<text x="49.7" y="1014.8" font-size="28.5" fill="#24242f" textLength="110.1" lengthAdjust="spacingAndGlyphs" stroke="#fff" stroke-width="0.25">Strength</text>
<path d="M546.2,1027.68 L41.5,1027.68 Q25.5,1027.68 25.5,1043.68 L25.5,1049.98 Q25.5,1065.98 41.5,1065.98 L546.2,1065.98 Z" fill="#fff"/>
<rect x="546.2" y="1027.68" width="689.3" height="38.3" fill="#e3e6f5"/>
<path d="M1235.5,1027.68 L1270.45,1027.68 A19.15,19.15 0 0 1 1270.45,1065.98 L1235.5,1065.98 Z" fill="#fff"/>
<rect x="1241.8" y="1032.48" width="6.6" height="28.7" rx="1.5" fill="#f0a633"/>
<rect x="1251.7" y="1032.48" width="6.6" height="28.7" rx="1.5" fill="#fadfbb"/>
<rect x="1261.6" y="1032.48" width="6.6" height="28.7" rx="1.5" fill="#fadfbb"/>
<rect x="1271.5" y="1032.48" width="6.6" height="28.7" rx="1.5" fill="#fadfbb"/>
<path d="M546.2,1027.68 L464.15,1027.68 A19.15,19.15 0 0 0 464.15,1065.98 L546.2,1065.98 Z" fill="#05b0b1"/>
<circle cx="469.2" cy="1037.68" r="3.4" fill="#fff"/>
<path d="M464.7,1045.18 Q464.7,1042.68 467,1042.68 L471.4,1042.68 Q473.7,1042.68 473.7,1045.18 L473.7,1051.18 L471.8,1052.18 L471.8,1059.48 L466.6,1059.48 L466.6,1052.18 L464.7,1051.18 Z" fill="#fff"/>
<text x="481.5" y="1055.9" font-size="25.5" fill="#fff" textLength="48.7" lengthAdjust="spacingAndGlyphs" stroke="#05b0b1" stroke-width="0.35">1286</text>
<text x="49.7" y="1057.3" font-size="28.5" fill="#24242f" textLength="294.9" lengthAdjust="spacingAndGlyphs" stroke="#fff" stroke-width="0.25">Mixed aerobic exercises</text>
<path d="M546.2,1070.21 L41.5,1070.21 Q25.5,1070.21 25.5,1086.21 L25.5,1092.51 Q25.5,1108.51 41.5,1108.51 L546.2,1108.51 Z" fill="#fff"/>
<rect x="546.2" y="1070.21" width="689.3" height="38.3" fill="#e3e6f5"/>
<path d="M1235.5,1070.21 L1270.45,1070.21 A19.15,19.15 0 0 1 1270.45,1108.51 L1235.5,1108.51 Z" fill="#fff"/>
<rect x="1241.8" y="1075.01" width="6.6" height="28.7" rx="1.5" fill="#f0a633"/>
<rect x="1251.7" y="1075.01" width="6.6" height="28.7" rx="1.5" fill="#fadfbb"/>
<rect x="1261.6" y="1075.01" width="6.6" height="28.7" rx="1.5" fill="#fadfbb"/>
<rect x="1271.5" y="1075.01" width="6.6" height="28.7" rx="1.5" fill="#fadfbb"/>
<path d="M546.2,1070.21 L464.15,1070.21 A19.15,19.15 0 0 0 464.15,1108.51 L546.2,1108.51 Z" fill="#05b0b1"/>
<circle cx="469.2" cy="1080.21" r="3.4" fill="#fff"/>
<path d="M464.7,1087.71 Q464.7,1085.21 467,1085.21 L471.4,1085.21 Q473.7,1085.21 473.7,1087.71 L473.7,1093.71 L471.8,1094.71 L471.8,1102.01 L466.6,1102.01 L466.6,1094.71 L464.7,1093.71 Z" fill="#fff"/>
<text x="481.5" y="1098.4" font-size="25.5" fill="#fff" textLength="40.3" lengthAdjust="spacingAndGlyphs" stroke="#05b0b1" stroke-width="0.35">343</text>
<text x="49.7" y="1099.8" font-size="28.5" fill="#24242f" textLength="205.9" lengthAdjust="spacingAndGlyphs" stroke="#fff" stroke-width="0.25">Tai chi or qigong</text>
<path d="M546.2,1112.74 L41.5,1112.74 Q25.5,1112.74 25.5,1128.74 L25.5,1135.04 Q25.5,1151.04 41.5,1151.04 L546.2,1151.04 Z" fill="#fff"/>
<rect x="546.2" y="1112.74" width="689.3" height="38.3" fill="#e3e6f5"/>
<path d="M1235.5,1112.74 L1270.45,1112.74 A19.15,19.15 0 0 1 1270.45,1151.04 L1235.5,1151.04 Z" fill="#fff"/>
<rect x="1241.8" y="1117.54" width="6.6" height="28.7" rx="1.5" fill="#f0a633"/>
<rect x="1251.7" y="1117.54" width="6.6" height="28.7" rx="1.5" fill="#fadfbb"/>
<rect x="1261.6" y="1117.54" width="6.6" height="28.7" rx="1.5" fill="#fadfbb"/>
<rect x="1271.5" y="1117.54" width="6.6" height="28.7" rx="1.5" fill="#fadfbb"/>
<path d="M546.2,1112.74 L464.15,1112.74 A19.15,19.15 0 0 0 464.15,1151.04 L546.2,1151.04 Z" fill="#05b0b1"/>
<circle cx="469.2" cy="1122.74" r="3.4" fill="#fff"/>
<path d="M464.7,1130.24 Q464.7,1127.74 467,1127.74 L471.4,1127.74 Q473.7,1127.74 473.7,1130.24 L473.7,1136.24 L471.8,1137.24 L471.8,1144.54 L466.6,1144.54 L466.6,1137.24 L464.7,1136.24 Z" fill="#fff"/>
<text x="481.5" y="1140.9" font-size="25.5" fill="#fff" textLength="50.1" lengthAdjust="spacingAndGlyphs" stroke="#05b0b1" stroke-width="0.35">1036</text>
<text x="49.7" y="1142.3" font-size="28.5" fill="#24242f" textLength="341.7" lengthAdjust="spacingAndGlyphs" stroke="#fff" stroke-width="0.25">Aerobic exercise + strength</text>
<path d="M546.2,1155.27 L41.5,1155.27 Q25.5,1155.27 25.5,1171.27 L25.5,1177.57 Q25.5,1193.57 41.5,1193.57 L546.2,1193.57 Z" fill="#fff"/>
<rect x="546.2" y="1155.27" width="689.3" height="38.3" fill="#e3e6f5"/>
<path d="M1235.5,1155.27 A19.15,19.15 0 0 1 1235.5,1193.57 Z" fill="#fff"/>
<path d="M546.2,1155.27 L464.15,1155.27 A19.15,19.15 0 0 0 464.15,1193.57 L546.2,1193.57 Z" fill="#05b0b1"/>
<circle cx="469.2" cy="1165.27" r="3.4" fill="#fff"/>
<path d="M464.7,1172.77 Q464.7,1170.27 467,1170.27 L471.4,1170.27 Q473.7,1170.27 473.7,1172.77 L473.7,1178.77 L471.8,1179.77 L471.8,1187.07 L466.6,1187.07 L466.6,1179.77 L464.7,1178.77 Z" fill="#fff"/>
<text x="481.5" y="1183.5" font-size="25.5" fill="#fff" textLength="39.8" lengthAdjust="spacingAndGlyphs" stroke="#05b0b1" stroke-width="0.35">432</text>
<text x="49.7" y="1184.9" font-size="28.5" fill="#24242f" textLength="56.0" lengthAdjust="spacingAndGlyphs" stroke="#fff" stroke-width="0.25">SSRI</text>
<text x="106.3" y="1173.3" font-size="15" fill="#24242f">*</text>
<rect x="684.0" y="772.5" width="1.2" height="421.1" fill="#c9cee3"/>
<rect x="821.3" y="772.5" width="1.2" height="421.1" fill="#c9cee3"/>
<rect x="1096.2" y="772.5" width="1.2" height="421.1" fill="#c9cee3"/>
<rect x="901.4" y="772.5" width="116.6" height="421.1" fill="#f9a891" fill-opacity="0.6"/>
<rect x="959.0" y="772.5" width="1.3" height="421.1" fill="#6f6870"/>
<line x1="901.6" y1="772.5" x2="901.6" y2="1193.6" stroke="#d8262c" stroke-width="2" stroke-dasharray="3.5 2"/>
<line x1="740.0" y1="791.65" x2="836.4" y2="791.65" stroke="#05b0b1" stroke-width="3.2" stroke-linecap="round"/>
<path d="M787.8,783.05 L796.4,791.65 L787.8,800.25 L779.1999999999999,791.65 Z" fill="#e3e6f5"/>
<path d="M787.8,784.65 L794.8,791.65 L787.8,798.65 L780.8,791.65 Z" fill="#05b0b1"/>
<line x1="753.7" y1="834.18" x2="862.7" y2="834.18" stroke="#05b0b1" stroke-width="3.2" stroke-linecap="round"/>
<path d="M808.0,825.58 L816.6,834.18 L808.0,842.78 L799.4,834.18 Z" fill="#e3e6f5"/>
<path d="M808.0,827.18 L815.0,834.18 L808.0,841.18 L801.0,834.18 Z" fill="#05b0b1"/>
<line x1="757.9" y1="876.71" x2="861.7" y2="876.71" stroke="#05b0b1" stroke-width="3.2" stroke-linecap="round"/>
<path d="M809.8,868.11 L818.4,876.71 L809.8,885.31 L801.1999999999999,876.71 Z" fill="#e3e6f5"/>
<path d="M809.8,869.71 L816.8,876.71 L809.8,883.71 L802.8,876.71 Z" fill="#05b0b1"/>
<line x1="722.7" y1="919.24" x2="897.6" y2="919.24" stroke="#05b0b1" stroke-width="3.2" stroke-linecap="round"/>
<path d="M810.0,910.64 L818.6,919.24 L810.0,927.84 L801.4,919.24 Z" fill="#e3e6f5"/>
<path d="M810.0,912.24 L817.0,919.24 L810.0,926.24 L803.0,919.24 Z" fill="#05b0b1"/>
<line x1="750.4" y1="961.77" x2="875.7" y2="961.77" stroke="#05b0b1" stroke-width="3.2" stroke-linecap="round"/>
<path d="M812.9,953.17 L821.5,961.77 L812.9,970.37 L804.3,961.77 Z" fill="#e3e6f5"/>
<path d="M812.9,954.77 L819.9,961.77 L812.9,968.77 L805.9,961.77 Z" fill="#05b0b1"/>
<line x1="765.9" y1="1004.30" x2="883.4" y2="1004.30" stroke="#05b0b1" stroke-width="3.2" stroke-linecap="round"/>
<path d="M824.8,995.70 L833.4,1004.30 L824.8,1012.90 L816.1999999999999,1004.30 Z" fill="#e3e6f5"/>
<path d="M824.8,997.30 L831.8,1004.30 L824.8,1011.30 L817.8,1004.30 Z" fill="#05b0b1"/>
<line x1="791.7" y1="1046.83" x2="894.3" y2="1046.83" stroke="#05b0b1" stroke-width="3.2" stroke-linecap="round"/>
<path d="M842.9,1038.23 L851.5,1046.83 L842.9,1055.43 L834.3,1046.83 Z" fill="#e3e6f5"/>
<path d="M842.9,1039.83 L849.9,1046.83 L842.9,1053.83 L835.9,1046.83 Z" fill="#05b0b1"/>
<line x1="780.9" y1="1089.36" x2="905.6" y2="1089.36" stroke="#05b0b1" stroke-width="3.2" stroke-linecap="round"/>
<path d="M842.9,1080.76 L851.5,1089.36 L842.9,1097.96 L834.3,1089.36 Z" fill="#e3e6f5"/>
<path d="M842.9,1082.36 L849.9,1089.36 L842.9,1096.36 L835.9,1089.36 Z" fill="#05b0b1"/>
<line x1="820.9" y1="1131.89" x2="919.6" y2="1131.89" stroke="#05b0b1" stroke-width="3.2" stroke-linecap="round"/>
<path d="M869.7,1123.29 L878.3000000000001,1131.89 L869.7,1140.49 L861.1,1131.89 Z" fill="#e3e6f5"/>
<path d="M869.7,1124.89 L876.7,1131.89 L869.7,1138.89 L862.7,1131.89 Z" fill="#05b0b1"/>
<line x1="818.8" y1="1174.42" x2="956.3" y2="1174.42" stroke="#05b0b1" stroke-width="3.2" stroke-linecap="round"/>
<path d="M887.8,1165.82 L896.4,1174.42 L887.8,1183.02 L879.1999999999999,1174.42 Z" fill="#e3e6f5"/>
<path d="M887.8,1167.42 L894.8,1174.42 L887.8,1181.42 L880.8,1174.42 Z" fill="#05b0b1"/>
<text x="27.0" y="1268.2" font-size="23" fill="#7a87a3" textLength="126.0" lengthAdjust="spacingAndGlyphs">© 2024 BMJ</text>
<text x="27.0" y="1293.5" font-size="23" fill="#7a87a3" textLength="219.0" lengthAdjust="spacingAndGlyphs">Publishing Group Ltd</text>
<rect x="276.1" y="1205.2" width="218.5" height="97" rx="9" fill="#e3e6f5"/>
<text x="294.8" y="1231.5" font-size="22.5" font-weight="bold" fill="#1f1f2c" textLength="178.9" lengthAdjust="spacingAndGlyphs">Certainty rating</text>
<rect x="297.1" y="1241.9" width="7.4" height="22.4" rx="1.6" fill="#f0a633"/>
<rect x="306.7" y="1241.9" width="7.4" height="22.4" rx="1.6" fill="#f0a633"/>
<rect x="316.3" y="1241.9" width="7.4" height="22.4" rx="1.6" fill="#f7dcb8"/>
<rect x="325.9" y="1241.9" width="7.4" height="22.4" rx="1.6" fill="#f7dcb8"/>
<text x="339.4" y="1259.4" font-size="23" fill="#24242f" textLength="42.6" lengthAdjust="spacingAndGlyphs" stroke="#e3e6f5" stroke-width="0.2">Low</text>
<rect x="297.1" y="1269.9" width="7.4" height="22.4" rx="1.6" fill="#f0a633"/>
<rect x="306.7" y="1269.9" width="7.4" height="22.4" rx="1.6" fill="#f7dcb8"/>
<rect x="316.3" y="1269.9" width="7.4" height="22.4" rx="1.6" fill="#f7dcb8"/>
<rect x="325.9" y="1269.9" width="7.4" height="22.4" rx="1.6" fill="#f7dcb8"/>
<text x="339.4" y="1287.4" font-size="23" fill="#24242f" textLength="87.1" lengthAdjust="spacingAndGlyphs" stroke="#e3e6f5" stroke-width="0.2">Very low</text>
<line x1="520.6" y1="1221.3" x2="555.6" y2="1221.3" stroke="#d92b2f" stroke-width="1.7" stroke-dasharray="4 3"/>
<text x="567.9" y="1229.8" font-size="24" fill="#24242f" textLength="283.0" lengthAdjust="spacingAndGlyphs" stroke="#c4cfeb" stroke-width="0.2">Clinically important benefit</text>
<rect x="874.7" y="1214.6" width="26.8" height="15.2" fill="#edb5ad"/>
<text x="914.8" y="1229.8" font-size="24" fill="#24242f" textLength="285.2" lengthAdjust="spacingAndGlyphs" stroke="#c4cfeb" stroke-width="0.2">Equivalent to active control</text>
<text x="519.5" y="1281.0" font-size="16" fill="#24242f">*</text>
<text x="530.6" y="1291.8" font-size="21.5" fill="#24242f" textLength="335.4" lengthAdjust="spacingAndGlyphs" stroke="#c4cfeb" stroke-width="0.2">Selective serotonin reuptake inhibitor</text>
<rect x="906.8" y="1249.6" width="380.2" height="46.9" rx="8" fill="#fff"/>
<rect x="916.5" y="1258.3" width="29.2" height="28.5" rx="3" fill="#2f6fc0"/>
<text x="918.5" y="1277.0" font-size="14" font-weight="bold" style="font-family:'Liberation Serif', serif" fill="#fff" textLength="25.2" lengthAdjust="spacingAndGlyphs">bmj</text>
<text x="953.1" y="1280.3" font-size="27.5" fill="#2d6cb8" textLength="325.1" lengthAdjust="spacingAndGlyphs" stroke="#fff" stroke-width="0.45">https://bit.ly/BMJ-exedep</text>
</svg>
</body></html>
